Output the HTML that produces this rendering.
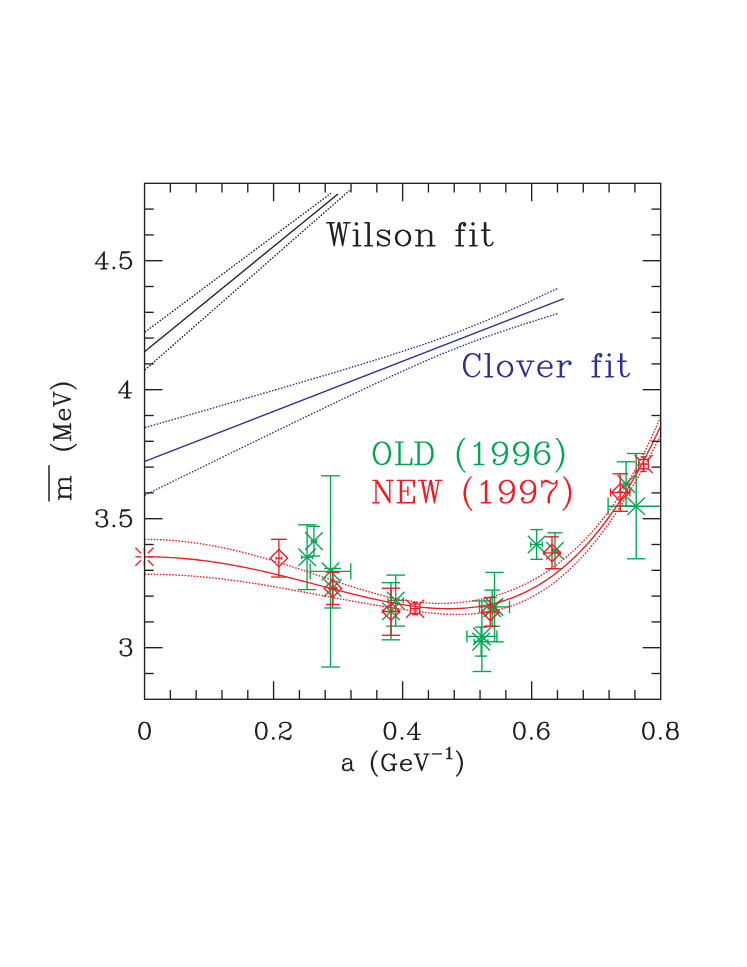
<!DOCTYPE html>
<html><head><meta charset="utf-8"><title>plot</title>
<style>html,body{margin:0;padding:0;background:#fff;font-family:"Liberation Sans",sans-serif}svg{display:block}</style>
</head><body><svg width="747" height="967" viewBox="0 0 747 967">
<rect width="747" height="967" fill="#fff"/>
<g id="green">
<line x1="307.10" y1="524.80" x2="307.10" y2="589.60" stroke="#00a651" stroke-width="1.35" stroke-linecap="butt"/>
<line x1="298.00" y1="524.80" x2="316.20" y2="524.80" stroke="#00a651" stroke-width="1.35" stroke-linecap="butt"/>
<line x1="298.00" y1="589.60" x2="316.20" y2="589.60" stroke="#00a651" stroke-width="1.35" stroke-linecap="butt"/>
<line x1="301.70" y1="557.20" x2="312.50" y2="557.20" stroke="#00a651" stroke-width="1.35" stroke-linecap="butt"/>
<line x1="301.70" y1="555.20" x2="301.70" y2="559.20" stroke="#00a651" stroke-width="1.35" stroke-linecap="butt"/>
<line x1="312.50" y1="555.20" x2="312.50" y2="559.20" stroke="#00a651" stroke-width="1.35" stroke-linecap="butt"/>
<line x1="298.30" y1="548.40" x2="315.90" y2="566.00" stroke="#00a651" stroke-width="1.35" stroke-linecap="butt"/>
<line x1="298.30" y1="566.00" x2="315.90" y2="548.40" stroke="#00a651" stroke-width="1.35" stroke-linecap="butt"/>
<line x1="313.90" y1="526.30" x2="313.90" y2="556.00" stroke="#00a651" stroke-width="1.35" stroke-linecap="butt"/>
<line x1="307.60" y1="526.30" x2="320.20" y2="526.30" stroke="#00a651" stroke-width="1.35" stroke-linecap="butt"/>
<line x1="307.60" y1="556.00" x2="320.20" y2="556.00" stroke="#00a651" stroke-width="1.35" stroke-linecap="butt"/>
<line x1="311.40" y1="541.10" x2="316.40" y2="541.10" stroke="#00a651" stroke-width="1.35" stroke-linecap="butt"/>
<line x1="311.40" y1="539.60" x2="311.40" y2="542.60" stroke="#00a651" stroke-width="1.35" stroke-linecap="butt"/>
<line x1="316.40" y1="539.60" x2="316.40" y2="542.60" stroke="#00a651" stroke-width="1.35" stroke-linecap="butt"/>
<line x1="305.10" y1="532.30" x2="322.70" y2="549.90" stroke="#00a651" stroke-width="1.35" stroke-linecap="butt"/>
<line x1="305.10" y1="549.90" x2="322.70" y2="532.30" stroke="#00a651" stroke-width="1.35" stroke-linecap="butt"/>
<line x1="330.50" y1="475.80" x2="330.50" y2="667.00" stroke="#00a651" stroke-width="1.35" stroke-linecap="butt"/>
<line x1="321.20" y1="475.80" x2="339.80" y2="475.80" stroke="#00a651" stroke-width="1.35" stroke-linecap="butt"/>
<line x1="321.20" y1="667.00" x2="339.80" y2="667.00" stroke="#00a651" stroke-width="1.35" stroke-linecap="butt"/>
<line x1="310.20" y1="571.40" x2="350.80" y2="571.40" stroke="#00a651" stroke-width="1.35" stroke-linecap="butt"/>
<line x1="310.20" y1="563.20" x2="310.20" y2="579.60" stroke="#00a651" stroke-width="1.35" stroke-linecap="butt"/>
<line x1="350.80" y1="563.20" x2="350.80" y2="579.60" stroke="#00a651" stroke-width="1.35" stroke-linecap="butt"/>
<line x1="321.70" y1="562.60" x2="339.30" y2="580.20" stroke="#00a651" stroke-width="1.35" stroke-linecap="butt"/>
<line x1="321.70" y1="580.20" x2="339.30" y2="562.60" stroke="#00a651" stroke-width="1.35" stroke-linecap="butt"/>
<line x1="332.60" y1="568.40" x2="332.60" y2="608.00" stroke="#00a651" stroke-width="1.35" stroke-linecap="butt"/>
<line x1="324.20" y1="568.40" x2="341.00" y2="568.40" stroke="#00a651" stroke-width="1.35" stroke-linecap="butt"/>
<line x1="324.20" y1="608.00" x2="341.00" y2="608.00" stroke="#00a651" stroke-width="1.35" stroke-linecap="butt"/>
<line x1="329.60" y1="588.00" x2="335.60" y2="588.00" stroke="#00a651" stroke-width="1.35" stroke-linecap="butt"/>
<line x1="329.60" y1="586.50" x2="329.60" y2="589.50" stroke="#00a651" stroke-width="1.35" stroke-linecap="butt"/>
<line x1="335.60" y1="586.50" x2="335.60" y2="589.50" stroke="#00a651" stroke-width="1.35" stroke-linecap="butt"/>
<line x1="323.80" y1="579.20" x2="341.40" y2="596.80" stroke="#00a651" stroke-width="1.35" stroke-linecap="butt"/>
<line x1="323.80" y1="596.80" x2="341.40" y2="579.20" stroke="#00a651" stroke-width="1.35" stroke-linecap="butt"/>
<line x1="395.70" y1="575.10" x2="395.70" y2="626.10" stroke="#00a651" stroke-width="1.35" stroke-linecap="butt"/>
<line x1="386.40" y1="575.10" x2="405.00" y2="575.10" stroke="#00a651" stroke-width="1.35" stroke-linecap="butt"/>
<line x1="386.40" y1="626.10" x2="405.00" y2="626.10" stroke="#00a651" stroke-width="1.35" stroke-linecap="butt"/>
<line x1="388.10" y1="600.50" x2="403.30" y2="600.50" stroke="#00a651" stroke-width="1.35" stroke-linecap="butt"/>
<line x1="388.10" y1="597.50" x2="388.10" y2="603.50" stroke="#00a651" stroke-width="1.35" stroke-linecap="butt"/>
<line x1="403.30" y1="597.50" x2="403.30" y2="603.50" stroke="#00a651" stroke-width="1.35" stroke-linecap="butt"/>
<line x1="386.90" y1="591.70" x2="404.50" y2="609.30" stroke="#00a651" stroke-width="1.35" stroke-linecap="butt"/>
<line x1="386.90" y1="609.30" x2="404.50" y2="591.70" stroke="#00a651" stroke-width="1.35" stroke-linecap="butt"/>
<line x1="391.00" y1="582.70" x2="391.00" y2="639.80" stroke="#00a651" stroke-width="1.35" stroke-linecap="butt"/>
<line x1="381.80" y1="582.70" x2="400.20" y2="582.70" stroke="#00a651" stroke-width="1.35" stroke-linecap="butt"/>
<line x1="381.80" y1="639.80" x2="400.20" y2="639.80" stroke="#00a651" stroke-width="1.35" stroke-linecap="butt"/>
<line x1="383.00" y1="611.30" x2="399.00" y2="611.30" stroke="#00a651" stroke-width="1.35" stroke-linecap="butt"/>
<line x1="383.00" y1="609.30" x2="383.00" y2="613.30" stroke="#00a651" stroke-width="1.35" stroke-linecap="butt"/>
<line x1="399.00" y1="609.30" x2="399.00" y2="613.30" stroke="#00a651" stroke-width="1.35" stroke-linecap="butt"/>
<line x1="382.20" y1="602.50" x2="399.80" y2="620.10" stroke="#00a651" stroke-width="1.35" stroke-linecap="butt"/>
<line x1="382.20" y1="620.10" x2="399.80" y2="602.50" stroke="#00a651" stroke-width="1.35" stroke-linecap="butt"/>
<line x1="494.50" y1="572.40" x2="494.50" y2="641.80" stroke="#00a651" stroke-width="1.35" stroke-linecap="butt"/>
<line x1="485.30" y1="572.40" x2="503.70" y2="572.40" stroke="#00a651" stroke-width="1.35" stroke-linecap="butt"/>
<line x1="485.30" y1="641.80" x2="503.70" y2="641.80" stroke="#00a651" stroke-width="1.35" stroke-linecap="butt"/>
<line x1="479.50" y1="606.90" x2="509.50" y2="606.90" stroke="#00a651" stroke-width="1.35" stroke-linecap="butt"/>
<line x1="479.50" y1="600.70" x2="479.50" y2="613.10" stroke="#00a651" stroke-width="1.35" stroke-linecap="butt"/>
<line x1="509.50" y1="600.70" x2="509.50" y2="613.10" stroke="#00a651" stroke-width="1.35" stroke-linecap="butt"/>
<line x1="485.70" y1="598.10" x2="503.30" y2="615.70" stroke="#00a651" stroke-width="1.35" stroke-linecap="butt"/>
<line x1="485.70" y1="615.70" x2="503.30" y2="598.10" stroke="#00a651" stroke-width="1.35" stroke-linecap="butt"/>
<line x1="492.20" y1="590.10" x2="492.20" y2="626.30" stroke="#00a651" stroke-width="1.35" stroke-linecap="butt"/>
<line x1="484.40" y1="590.10" x2="500.00" y2="590.10" stroke="#00a651" stroke-width="1.35" stroke-linecap="butt"/>
<line x1="484.40" y1="626.30" x2="500.00" y2="626.30" stroke="#00a651" stroke-width="1.35" stroke-linecap="butt"/>
<line x1="488.20" y1="608.20" x2="496.20" y2="608.20" stroke="#00a651" stroke-width="1.35" stroke-linecap="butt"/>
<line x1="488.20" y1="606.20" x2="488.20" y2="610.20" stroke="#00a651" stroke-width="1.35" stroke-linecap="butt"/>
<line x1="496.20" y1="606.20" x2="496.20" y2="610.20" stroke="#00a651" stroke-width="1.35" stroke-linecap="butt"/>
<line x1="483.40" y1="599.40" x2="501.00" y2="617.00" stroke="#00a651" stroke-width="1.35" stroke-linecap="butt"/>
<line x1="483.40" y1="617.00" x2="501.00" y2="599.40" stroke="#00a651" stroke-width="1.35" stroke-linecap="butt"/>
<line x1="481.90" y1="600.90" x2="481.90" y2="671.50" stroke="#00a651" stroke-width="1.35" stroke-linecap="butt"/>
<line x1="472.50" y1="600.90" x2="491.30" y2="600.90" stroke="#00a651" stroke-width="1.35" stroke-linecap="butt"/>
<line x1="472.50" y1="671.50" x2="491.30" y2="671.50" stroke="#00a651" stroke-width="1.35" stroke-linecap="butt"/>
<line x1="466.90" y1="636.40" x2="496.90" y2="636.40" stroke="#00a651" stroke-width="1.35" stroke-linecap="butt"/>
<line x1="466.90" y1="630.40" x2="466.90" y2="642.40" stroke="#00a651" stroke-width="1.35" stroke-linecap="butt"/>
<line x1="496.90" y1="630.40" x2="496.90" y2="642.40" stroke="#00a651" stroke-width="1.35" stroke-linecap="butt"/>
<line x1="473.10" y1="627.60" x2="490.70" y2="645.20" stroke="#00a651" stroke-width="1.35" stroke-linecap="butt"/>
<line x1="473.10" y1="645.20" x2="490.70" y2="627.60" stroke="#00a651" stroke-width="1.35" stroke-linecap="butt"/>
<line x1="481.10" y1="627.10" x2="481.10" y2="656.10" stroke="#00a651" stroke-width="1.35" stroke-linecap="butt"/>
<line x1="475.10" y1="627.10" x2="487.10" y2="627.10" stroke="#00a651" stroke-width="1.35" stroke-linecap="butt"/>
<line x1="475.10" y1="656.10" x2="487.10" y2="656.10" stroke="#00a651" stroke-width="1.35" stroke-linecap="butt"/>
<line x1="474.30" y1="641.60" x2="487.90" y2="641.60" stroke="#00a651" stroke-width="1.35" stroke-linecap="butt"/>
<line x1="474.30" y1="639.10" x2="474.30" y2="644.10" stroke="#00a651" stroke-width="1.35" stroke-linecap="butt"/>
<line x1="487.90" y1="639.10" x2="487.90" y2="644.10" stroke="#00a651" stroke-width="1.35" stroke-linecap="butt"/>
<line x1="472.30" y1="632.80" x2="489.90" y2="650.40" stroke="#00a651" stroke-width="1.35" stroke-linecap="butt"/>
<line x1="472.30" y1="650.40" x2="489.90" y2="632.80" stroke="#00a651" stroke-width="1.35" stroke-linecap="butt"/>
<line x1="536.60" y1="529.60" x2="536.60" y2="559.30" stroke="#00a651" stroke-width="1.35" stroke-linecap="butt"/>
<line x1="530.40" y1="529.60" x2="542.80" y2="529.60" stroke="#00a651" stroke-width="1.35" stroke-linecap="butt"/>
<line x1="530.40" y1="559.30" x2="542.80" y2="559.30" stroke="#00a651" stroke-width="1.35" stroke-linecap="butt"/>
<line x1="530.80" y1="544.50" x2="542.40" y2="544.50" stroke="#00a651" stroke-width="1.35" stroke-linecap="butt"/>
<line x1="530.80" y1="541.50" x2="530.80" y2="547.50" stroke="#00a651" stroke-width="1.35" stroke-linecap="butt"/>
<line x1="542.40" y1="541.50" x2="542.40" y2="547.50" stroke="#00a651" stroke-width="1.35" stroke-linecap="butt"/>
<line x1="527.80" y1="535.70" x2="545.40" y2="553.30" stroke="#00a651" stroke-width="1.35" stroke-linecap="butt"/>
<line x1="527.80" y1="553.30" x2="545.40" y2="535.70" stroke="#00a651" stroke-width="1.35" stroke-linecap="butt"/>
<line x1="555.00" y1="532.80" x2="555.00" y2="568.70" stroke="#00a651" stroke-width="1.35" stroke-linecap="butt"/>
<line x1="547.40" y1="532.80" x2="562.60" y2="532.80" stroke="#00a651" stroke-width="1.35" stroke-linecap="butt"/>
<line x1="547.40" y1="568.70" x2="562.60" y2="568.70" stroke="#00a651" stroke-width="1.35" stroke-linecap="butt"/>
<line x1="552.00" y1="550.70" x2="558.00" y2="550.70" stroke="#00a651" stroke-width="1.35" stroke-linecap="butt"/>
<line x1="552.00" y1="549.20" x2="552.00" y2="552.20" stroke="#00a651" stroke-width="1.35" stroke-linecap="butt"/>
<line x1="558.00" y1="549.20" x2="558.00" y2="552.20" stroke="#00a651" stroke-width="1.35" stroke-linecap="butt"/>
<line x1="546.20" y1="541.90" x2="563.80" y2="559.50" stroke="#00a651" stroke-width="1.35" stroke-linecap="butt"/>
<line x1="546.20" y1="559.50" x2="563.80" y2="541.90" stroke="#00a651" stroke-width="1.35" stroke-linecap="butt"/>
<line x1="626.10" y1="461.80" x2="626.10" y2="506.00" stroke="#00a651" stroke-width="1.35" stroke-linecap="butt"/>
<line x1="616.80" y1="461.80" x2="635.40" y2="461.80" stroke="#00a651" stroke-width="1.35" stroke-linecap="butt"/>
<line x1="616.80" y1="506.00" x2="635.40" y2="506.00" stroke="#00a651" stroke-width="1.35" stroke-linecap="butt"/>
<line x1="623.10" y1="483.90" x2="629.10" y2="483.90" stroke="#00a651" stroke-width="1.35" stroke-linecap="butt"/>
<line x1="623.10" y1="482.40" x2="623.10" y2="485.40" stroke="#00a651" stroke-width="1.35" stroke-linecap="butt"/>
<line x1="629.10" y1="482.40" x2="629.10" y2="485.40" stroke="#00a651" stroke-width="1.35" stroke-linecap="butt"/>
<line x1="617.30" y1="475.10" x2="634.90" y2="492.70" stroke="#00a651" stroke-width="1.35" stroke-linecap="butt"/>
<line x1="617.30" y1="492.70" x2="634.90" y2="475.10" stroke="#00a651" stroke-width="1.35" stroke-linecap="butt"/>
<line x1="636.20" y1="453.50" x2="636.20" y2="558.80" stroke="#00a651" stroke-width="1.35" stroke-linecap="butt"/>
<line x1="627.00" y1="453.50" x2="645.40" y2="453.50" stroke="#00a651" stroke-width="1.35" stroke-linecap="butt"/>
<line x1="627.00" y1="558.80" x2="645.40" y2="558.80" stroke="#00a651" stroke-width="1.35" stroke-linecap="butt"/>
<line x1="608.10" y1="506.20" x2="660.90" y2="506.20" stroke="#00a651" stroke-width="1.35" stroke-linecap="butt"/>
<line x1="608.10" y1="497.40" x2="608.10" y2="515.00" stroke="#00a651" stroke-width="1.35" stroke-linecap="butt"/>
<line x1="627.40" y1="497.40" x2="645.00" y2="515.00" stroke="#00a651" stroke-width="1.35" stroke-linecap="butt"/>
<line x1="627.40" y1="515.00" x2="645.00" y2="497.40" stroke="#00a651" stroke-width="1.35" stroke-linecap="butt"/>
</g>
<g id="fits">
<line x1="144.80" y1="351.40" x2="338.00" y2="194.00" stroke="#231f20" stroke-width="1.35" stroke-linecap="butt"/>
<line x1="144.80" y1="332.10" x2="331.10" y2="193.20" stroke="#231f20" stroke-width="1.35" stroke-linecap="butt" stroke-dasharray="1.58 1.5"/>
<line x1="144.80" y1="370.00" x2="349.60" y2="190.40" stroke="#231f20" stroke-width="1.35" stroke-linecap="butt" stroke-dasharray="1.58 1.5"/>
<line x1="144.80" y1="461.40" x2="563.90" y2="298.60" stroke="#2e3192" stroke-width="1.35" stroke-linecap="butt"/>
<polyline points="144.80,427.65 150.04,426.14 155.27,424.64 160.51,423.13 165.74,421.62 170.98,420.12 176.21,418.61 181.45,417.10 186.68,415.59 191.92,414.08 197.15,412.56 202.39,411.05 207.63,409.54 212.86,408.03 218.10,406.51 223.33,404.99 228.57,403.48 233.80,401.96 239.04,400.44 244.27,398.92 249.51,397.40 254.74,395.88 259.98,394.35 265.22,392.82 270.45,391.30 275.69,389.77 280.92,388.24 286.16,386.70 291.39,385.17 296.63,383.63 301.86,382.09 307.10,380.54 312.33,378.99 317.57,377.44 322.81,375.89 328.04,374.33 333.28,372.77 338.51,371.20 343.75,369.63 348.98,368.05 354.22,366.46 359.45,364.87 364.69,363.27 369.92,361.66 375.16,360.04 380.39,358.41 385.63,356.77 390.87,355.11 396.10,353.45 401.34,351.76 406.57,350.06 411.81,348.33 417.04,346.59 422.28,344.82 427.51,343.03 432.75,341.20 437.98,339.35 443.22,337.46 448.46,335.54 453.69,333.58 458.93,331.59 464.16,329.56 469.40,327.49 474.63,325.38 479.87,323.24 485.10,321.06 490.34,318.85 495.57,316.61 500.81,314.34 506.05,312.04 511.28,309.72 516.52,307.38 521.75,305.01 526.99,302.63 532.22,300.23 537.46,297.82 542.69,295.40 547.93,292.96 553.16,290.51 558.40,288.05" fill="none" stroke="#2e3192" stroke-width="1.35" stroke-linejoin="round" stroke-dasharray="1.58 1.5"/>
<polyline points="144.80,495.15 150.04,492.59 155.27,490.03 160.51,487.47 165.74,484.91 170.98,482.35 176.21,479.79 181.45,477.23 186.68,474.67 191.92,472.12 197.15,469.56 202.39,467.01 207.63,464.45 212.86,461.90 218.10,459.35 223.33,456.79 228.57,454.24 233.80,451.69 239.04,449.15 244.27,446.60 249.51,444.05 254.74,441.51 259.98,438.97 265.22,436.42 270.45,433.88 275.69,431.35 280.92,428.81 286.16,426.28 291.39,423.75 296.63,421.22 301.86,418.69 307.10,416.17 312.33,413.65 317.57,411.13 322.81,408.62 328.04,406.11 333.28,403.61 338.51,401.11 343.75,398.61 348.98,396.12 354.22,393.64 359.45,391.17 364.69,388.70 369.92,386.24 375.16,383.79 380.39,381.36 385.63,378.93 390.87,376.52 396.10,374.12 401.34,371.74 406.57,369.37 411.81,367.03 417.04,364.70 422.28,362.40 427.51,360.13 432.75,357.89 437.98,355.67 443.22,353.49 448.46,351.35 453.69,349.24 458.93,347.16 464.16,345.13 469.40,343.13 474.63,341.17 479.87,339.25 485.10,337.36 490.34,335.50 495.57,333.68 500.81,331.88 506.05,330.11 511.28,328.36 516.52,326.64 521.75,324.93 526.99,323.25 532.22,321.58 537.46,319.92 542.69,318.28 547.93,316.65 553.16,315.03 558.40,313.42" fill="none" stroke="#2e3192" stroke-width="1.35" stroke-linejoin="round" stroke-dasharray="1.58 1.5"/>
<polyline points="144.55,556.79 146.91,556.80 149.26,556.82 151.62,556.85 153.98,556.89 156.33,556.95 158.69,557.02 161.05,557.10 163.40,557.19 165.76,557.30 168.12,557.42 170.48,557.55 172.83,557.69 175.19,557.84 177.55,558.01 179.90,558.19 182.26,558.38 184.62,558.58 186.97,558.79 189.33,559.02 191.69,559.26 194.04,559.50 196.40,559.77 198.76,560.04 201.11,560.32 203.47,560.61 205.83,560.92 208.18,561.24 210.54,561.56 212.90,561.90 215.26,562.25 217.61,562.61 219.97,562.98 222.33,563.36 224.68,563.75 227.04,564.14 229.40,564.55 231.75,564.97 234.11,565.40 236.47,565.84 238.82,566.28 241.18,566.74 243.54,567.20 245.89,567.67 248.25,568.15 250.61,568.64 252.97,569.14 255.32,569.64 257.68,570.15 260.04,570.67 262.39,571.20 264.75,571.73 267.11,572.27 269.46,572.82 271.82,573.37 274.18,573.93 276.53,574.49 278.89,575.06 281.25,575.63 283.60,576.21 285.96,576.80 288.32,577.39 290.67,577.98 293.03,578.57 295.39,579.17 297.75,579.78 300.10,580.38 302.46,580.99 304.82,581.60 307.17,582.22 309.53,582.83 311.89,583.45 314.24,584.07 316.60,584.68 318.96,585.30 321.31,585.92 323.67,586.54 326.03,587.16 328.38,587.78 330.74,588.39 333.10,589.01 335.45,589.62 337.81,590.23 340.17,590.84 342.53,591.45 344.88,592.05 347.24,592.65 349.60,593.24 351.95,593.83 354.31,594.41 356.67,594.99 359.02,595.57 361.38,596.14 363.74,596.70 366.09,597.25 368.45,597.80 370.81,598.34 373.16,598.87 375.52,599.39 377.88,599.90 380.23,600.41 382.59,600.90 384.95,601.38 387.31,601.86 389.66,602.32 392.02,602.77 394.38,603.20 396.73,603.63 399.09,604.04 401.45,604.44 403.80,604.82 406.16,605.19 408.52,605.54 410.87,605.88 413.23,606.20 415.59,606.51 417.94,606.80 420.30,607.07 422.66,607.32 425.02,607.55 427.37,607.76 429.73,607.96 432.09,608.13 434.44,608.29 436.80,608.42 439.16,608.53 441.51,608.61 443.87,608.68 446.23,608.72 448.58,608.73 450.94,608.72 453.30,608.69 455.65,608.63 458.01,608.54 460.37,608.43 462.72,608.29 465.08,608.12 467.44,607.92 469.80,607.69 472.15,607.43 474.51,607.14 476.87,606.82 479.22,606.46 481.58,606.08 483.94,605.66 486.29,605.20 488.65,604.72 491.01,604.19 493.36,603.63 495.72,603.04 498.08,602.40 500.43,601.73 502.79,601.02 505.15,600.27 507.50,599.48 509.86,598.65 512.22,597.78 514.58,596.87 516.93,595.91 519.29,594.91 521.65,593.87 524.00,592.78 526.36,591.64 528.72,590.46 531.07,589.24 533.43,587.96 535.79,586.64 538.14,585.26 540.50,583.84 542.86,582.36 545.21,580.84 547.57,579.26 549.93,577.63 552.28,575.94 554.64,574.20 557.00,572.41 559.36,570.56 561.71,568.65 564.07,566.68 566.43,564.66 568.78,562.57 571.14,560.43 573.50,558.23 575.85,555.96 578.21,553.63 580.57,551.24 582.92,548.78 585.28,546.26 587.64,543.67 589.99,541.02 592.35,538.29 594.71,535.50 597.07,532.64 599.42,529.71 601.78,526.71 604.14,523.64 606.49,520.49 608.85,517.27 611.21,513.98 613.56,510.61 615.92,507.16 618.28,503.64 620.63,500.04 622.99,496.36 625.35,492.60 627.70,488.76 630.06,484.84 632.42,480.83 634.77,476.75 637.13,472.57 639.49,468.31 641.85,463.97 644.20,459.54 646.56,455.02 648.92,450.41 651.27,445.71 653.63,440.92 655.99,436.03 658.34,431.06 660.70,425.99" fill="none" stroke="#ed1c24" stroke-width="1.35" stroke-linejoin="round"/>
<polyline points="144.55,539.39 146.91,539.39 149.26,539.42 151.62,539.46 153.98,539.51 156.33,539.58 158.69,539.67 161.05,539.77 163.40,539.89 165.76,540.02 168.12,540.17 170.48,540.33 172.83,540.51 175.19,540.71 177.55,540.92 179.90,541.14 182.26,541.38 184.62,541.64 186.97,541.91 189.33,542.19 191.69,542.49 194.04,542.81 196.40,543.14 198.76,543.48 201.11,543.84 203.47,544.21 205.83,544.60 208.18,545.00 210.54,545.41 212.90,545.84 215.26,546.28 217.61,546.73 219.97,547.20 222.33,547.68 224.68,548.18 227.04,548.68 229.40,549.20 231.75,549.73 234.11,550.27 236.47,550.83 238.82,551.39 241.18,551.97 243.54,552.56 245.89,553.16 248.25,553.77 250.61,554.39 252.97,555.02 255.32,555.66 257.68,556.31 260.04,556.97 262.39,557.64 264.75,558.32 267.11,559.01 269.46,559.70 271.82,560.41 274.18,561.12 276.53,561.84 278.89,562.57 281.25,563.30 283.60,564.04 285.96,564.78 288.32,565.54 290.67,566.29 293.03,567.06 295.39,567.82 297.75,568.60 300.10,569.37 302.46,570.15 304.82,570.93 307.17,571.72 309.53,572.51 311.89,573.30 314.24,574.09 316.60,574.89 318.96,575.68 321.31,576.48 323.67,577.27 326.03,578.06 328.38,578.86 330.74,579.65 333.10,580.44 335.45,581.23 337.81,582.01 340.17,582.79 342.53,583.57 344.88,584.34 347.24,585.11 349.60,585.87 351.95,586.62 354.31,587.37 356.67,588.11 359.02,588.84 361.38,589.56 363.74,590.27 366.09,590.97 368.45,591.66 370.81,592.34 373.16,593.00 375.52,593.66 377.88,594.29 380.23,594.91 382.59,595.52 384.95,596.11 387.31,596.67 389.66,597.23 392.02,597.76 394.38,598.27 396.73,598.76 399.09,599.23 401.45,599.67 403.80,600.09 406.16,600.49 408.52,600.87 410.87,601.21 413.23,601.54 415.59,601.84 417.94,602.11 420.30,602.36 422.66,602.58 425.02,602.77 427.37,602.94 429.73,603.08 432.09,603.19 434.44,603.28 436.80,603.34 439.16,603.37 441.51,603.38 443.87,603.36 446.23,603.31 448.58,603.23 450.94,603.13 453.30,603.00 455.65,602.84 458.01,602.66 460.37,602.45 462.72,602.20 465.08,601.93 467.44,601.63 469.80,601.31 472.15,600.95 474.51,600.56 476.87,600.14 479.22,599.69 481.58,599.21 483.94,598.70 486.29,598.16 488.65,597.58 491.01,596.97 493.36,596.33 495.72,595.65 498.08,594.94 500.43,594.20 502.79,593.42 505.15,592.60 507.50,591.75 509.86,590.86 512.22,589.94 514.58,588.97 516.93,587.97 519.29,586.93 521.65,585.85 524.00,584.73 526.36,583.56 528.72,582.36 531.07,581.11 533.43,579.82 535.79,578.49 538.14,577.11 540.50,575.69 542.86,574.22 545.21,572.71 547.57,571.15 549.93,569.54 552.28,567.88 554.64,566.17 557.00,564.42 559.36,562.61 561.71,560.75 564.07,558.84 566.43,556.87 568.78,554.86 571.14,552.78 573.50,550.65 575.85,548.46 578.21,546.22 580.57,543.91 582.92,541.54 585.28,539.12 587.64,536.62 589.99,534.07 592.35,531.45 594.71,528.76 597.07,526.00 599.42,523.17 601.78,520.26 604.14,517.28 606.49,514.23 608.85,511.09 611.21,507.87 613.56,504.57 615.92,501.17 618.28,497.69 620.63,494.11 622.99,490.44 625.35,486.67 627.70,482.79 630.06,478.81 632.42,474.72 634.77,470.51 637.13,466.20 639.49,461.77 641.85,457.23 644.20,452.57 646.56,447.80 648.92,442.90 651.27,437.89 653.63,432.76 655.99,427.51 658.34,422.15 660.70,416.66" fill="none" stroke="#ed1c24" stroke-width="1.35" stroke-linejoin="round" stroke-dasharray="1.58 1.5"/>
<polyline points="144.55,574.20 146.91,574.21 149.26,574.22 151.62,574.24 153.98,574.28 156.33,574.32 158.69,574.37 161.05,574.43 163.40,574.50 165.76,574.57 168.12,574.66 170.48,574.76 172.83,574.86 175.19,574.98 177.55,575.10 179.90,575.23 182.26,575.37 184.62,575.52 186.97,575.68 189.33,575.84 191.69,576.02 194.04,576.20 196.40,576.39 198.76,576.59 201.11,576.80 203.47,577.02 205.83,577.24 208.18,577.47 210.54,577.71 212.90,577.96 215.26,578.22 217.61,578.48 219.97,578.75 222.33,579.03 224.68,579.31 227.04,579.61 229.40,579.91 231.75,580.21 234.11,580.53 236.47,580.85 238.82,581.17 241.18,581.50 243.54,581.84 245.89,582.19 248.25,582.54 250.61,582.89 252.97,583.26 255.32,583.62 257.68,583.99 260.04,584.37 262.39,584.75 264.75,585.14 267.11,585.53 269.46,585.93 271.82,586.33 274.18,586.73 276.53,587.14 278.89,587.55 281.25,587.97 283.60,588.39 285.96,588.81 288.32,589.24 290.67,589.66 293.03,590.09 295.39,590.52 297.75,590.96 300.10,591.39 302.46,591.83 304.82,592.27 307.17,592.71 309.53,593.15 311.89,593.60 314.24,594.04 316.60,594.48 318.96,594.92 321.31,595.37 323.67,595.81 326.03,596.25 328.38,596.70 330.74,597.14 333.10,597.58 335.45,598.02 337.81,598.45 340.17,598.89 342.53,599.32 344.88,599.76 347.24,600.19 349.60,600.61 351.95,601.04 354.31,601.46 356.67,601.88 359.02,602.30 361.38,602.71 363.74,603.12 366.09,603.53 368.45,603.93 370.81,604.33 373.16,604.73 375.52,605.12 377.88,605.51 380.23,605.90 382.59,606.28 384.95,606.66 387.31,607.04 389.66,607.41 392.02,607.78 394.38,608.14 396.73,608.50 399.09,608.85 401.45,609.20 403.80,609.55 406.16,609.89 408.52,610.22 410.87,610.55 413.23,610.87 415.59,611.18 417.94,611.48 420.30,611.78 422.66,612.06 425.02,612.33 427.37,612.59 429.73,612.84 432.09,613.08 434.44,613.29 436.80,613.50 439.16,613.68 441.51,613.85 443.87,614.00 446.23,614.13 448.58,614.23 450.94,614.32 453.30,614.38 455.65,614.41 458.01,614.43 460.37,614.41 462.72,614.37 465.08,614.30 467.44,614.20 469.80,614.07 472.15,613.91 474.51,613.72 476.87,613.49 479.22,613.24 481.58,612.94 483.94,612.62 486.29,612.25 488.65,611.85 491.01,611.41 493.36,610.94 495.72,610.42 498.08,609.86 500.43,609.26 502.79,608.62 505.15,607.94 507.50,607.21 509.86,606.44 512.22,605.63 514.58,604.76 516.93,603.85 519.29,602.90 521.65,601.89 524.00,600.83 526.36,599.73 528.72,598.57 531.07,597.36 533.43,596.10 535.79,594.78 538.14,593.41 540.50,591.99 542.86,590.51 545.21,588.97 547.57,587.37 549.93,585.72 552.28,584.01 554.64,582.23 557.00,580.40 559.36,578.51 561.71,576.55 564.07,574.53 566.43,572.44 568.78,570.29 571.14,568.08 573.50,565.80 575.85,563.46 578.21,561.04 580.57,558.56 582.92,556.02 585.28,553.40 587.64,550.72 589.99,547.96 592.35,545.14 594.71,542.25 597.07,539.29 599.42,536.26 601.78,533.16 604.14,529.99 606.49,526.76 608.85,523.46 611.21,520.09 613.56,516.65 615.92,513.15 618.28,509.59 620.63,505.97 622.99,502.28 625.35,498.54 627.70,494.73 630.06,490.87 632.42,486.95 634.77,482.98 637.13,478.94 639.49,474.85 641.85,470.71 644.20,466.50 646.56,462.24 648.92,457.91 651.27,453.52 653.63,449.07 655.99,444.56 658.34,439.97 660.70,435.32" fill="none" stroke="#ed1c24" stroke-width="1.35" stroke-linejoin="round" stroke-dasharray="1.58 1.5"/>
</g>
<g id="red">
<line x1="278.90" y1="539.30" x2="278.90" y2="577.00" stroke="#ed1c24" stroke-width="1.35" stroke-linecap="butt"/>
<line x1="271.00" y1="539.30" x2="286.80" y2="539.30" stroke="#ed1c24" stroke-width="1.35" stroke-linecap="butt"/>
<line x1="271.00" y1="577.00" x2="286.80" y2="577.00" stroke="#ed1c24" stroke-width="1.35" stroke-linecap="butt"/>
<line x1="276.10" y1="558.20" x2="281.70" y2="558.20" stroke="#ed1c24" stroke-width="1.35" stroke-linecap="butt"/>
<line x1="276.10" y1="556.70" x2="276.10" y2="559.70" stroke="#ed1c24" stroke-width="1.35" stroke-linecap="butt"/>
<line x1="281.70" y1="556.70" x2="281.70" y2="559.70" stroke="#ed1c24" stroke-width="1.35" stroke-linecap="butt"/>
<path d="M270.20,558.20L278.90,549.50L287.60,558.20L278.90,566.90Z" fill="none" stroke="#ed1c24" stroke-width="1.35" stroke-linejoin="miter"/>
<line x1="332.90" y1="572.30" x2="332.90" y2="604.50" stroke="#ed1c24" stroke-width="1.35" stroke-linecap="butt"/>
<line x1="326.10" y1="572.30" x2="339.70" y2="572.30" stroke="#ed1c24" stroke-width="1.35" stroke-linecap="butt"/>
<line x1="326.10" y1="604.50" x2="339.70" y2="604.50" stroke="#ed1c24" stroke-width="1.35" stroke-linecap="butt"/>
<line x1="329.10" y1="588.40" x2="336.70" y2="588.40" stroke="#ed1c24" stroke-width="1.35" stroke-linecap="butt"/>
<line x1="329.10" y1="586.90" x2="329.10" y2="589.90" stroke="#ed1c24" stroke-width="1.35" stroke-linecap="butt"/>
<line x1="336.70" y1="586.90" x2="336.70" y2="589.90" stroke="#ed1c24" stroke-width="1.35" stroke-linecap="butt"/>
<path d="M324.20,588.40L332.90,579.70L341.60,588.40L332.90,597.10Z" fill="none" stroke="#ed1c24" stroke-width="1.35" stroke-linejoin="miter"/>
<line x1="391.00" y1="588.20" x2="391.00" y2="635.30" stroke="#ed1c24" stroke-width="1.35" stroke-linecap="butt"/>
<line x1="381.80" y1="588.20" x2="400.20" y2="588.20" stroke="#ed1c24" stroke-width="1.35" stroke-linecap="butt"/>
<line x1="381.80" y1="635.30" x2="400.20" y2="635.30" stroke="#ed1c24" stroke-width="1.35" stroke-linecap="butt"/>
<line x1="382.50" y1="611.60" x2="399.50" y2="611.60" stroke="#ed1c24" stroke-width="1.35" stroke-linecap="butt"/>
<line x1="382.50" y1="610.10" x2="382.50" y2="613.10" stroke="#ed1c24" stroke-width="1.35" stroke-linecap="butt"/>
<line x1="399.50" y1="610.10" x2="399.50" y2="613.10" stroke="#ed1c24" stroke-width="1.35" stroke-linecap="butt"/>
<path d="M382.30,611.60L391.00,602.90L399.70,611.60L391.00,620.30Z" fill="none" stroke="#ed1c24" stroke-width="1.35" stroke-linejoin="miter"/>
<line x1="490.30" y1="597.50" x2="490.30" y2="626.30" stroke="#ed1c24" stroke-width="1.35" stroke-linecap="butt"/>
<line x1="483.90" y1="597.50" x2="496.70" y2="597.50" stroke="#ed1c24" stroke-width="1.35" stroke-linecap="butt"/>
<line x1="483.90" y1="626.30" x2="496.70" y2="626.30" stroke="#ed1c24" stroke-width="1.35" stroke-linecap="butt"/>
<line x1="481.70" y1="612.10" x2="498.90" y2="612.10" stroke="#ed1c24" stroke-width="1.35" stroke-linecap="butt"/>
<line x1="481.70" y1="610.60" x2="481.70" y2="613.60" stroke="#ed1c24" stroke-width="1.35" stroke-linecap="butt"/>
<line x1="498.90" y1="610.60" x2="498.90" y2="613.60" stroke="#ed1c24" stroke-width="1.35" stroke-linecap="butt"/>
<path d="M481.60,612.10L490.30,603.40L499.00,612.10L490.30,620.80Z" fill="none" stroke="#ed1c24" stroke-width="1.35" stroke-linejoin="miter"/>
<line x1="552.00" y1="536.80" x2="552.00" y2="568.70" stroke="#ed1c24" stroke-width="1.35" stroke-linecap="butt"/>
<line x1="545.20" y1="536.80" x2="558.80" y2="536.80" stroke="#ed1c24" stroke-width="1.35" stroke-linecap="butt"/>
<line x1="545.20" y1="568.70" x2="558.80" y2="568.70" stroke="#ed1c24" stroke-width="1.35" stroke-linecap="butt"/>
<line x1="544.10" y1="553.00" x2="559.90" y2="553.00" stroke="#ed1c24" stroke-width="1.35" stroke-linecap="butt"/>
<line x1="544.10" y1="551.00" x2="544.10" y2="555.00" stroke="#ed1c24" stroke-width="1.35" stroke-linecap="butt"/>
<line x1="559.90" y1="551.00" x2="559.90" y2="555.00" stroke="#ed1c24" stroke-width="1.35" stroke-linecap="butt"/>
<path d="M543.30,553.00L552.00,544.30L560.70,553.00L552.00,561.70Z" fill="none" stroke="#ed1c24" stroke-width="1.35" stroke-linejoin="miter"/>
<line x1="620.20" y1="473.80" x2="620.20" y2="511.30" stroke="#ed1c24" stroke-width="1.35" stroke-linecap="butt"/>
<line x1="612.40" y1="473.80" x2="628.00" y2="473.80" stroke="#ed1c24" stroke-width="1.35" stroke-linecap="butt"/>
<line x1="612.40" y1="511.30" x2="628.00" y2="511.30" stroke="#ed1c24" stroke-width="1.35" stroke-linecap="butt"/>
<line x1="610.60" y1="492.50" x2="629.80" y2="492.50" stroke="#ed1c24" stroke-width="1.35" stroke-linecap="butt"/>
<line x1="610.60" y1="488.50" x2="610.60" y2="496.50" stroke="#ed1c24" stroke-width="1.35" stroke-linecap="butt"/>
<line x1="629.80" y1="488.50" x2="629.80" y2="496.50" stroke="#ed1c24" stroke-width="1.35" stroke-linecap="butt"/>
<path d="M611.50,492.50L620.20,483.80L628.90,492.50L620.20,501.20Z" fill="none" stroke="#ed1c24" stroke-width="1.35" stroke-linejoin="miter"/>
<line x1="147.90" y1="556.80" x2="153.40" y2="556.80" stroke="#ed1c24" stroke-width="1.35" stroke-linecap="butt"/>
<line x1="140.90" y1="556.80" x2="135.40" y2="556.80" stroke="#ed1c24" stroke-width="1.35" stroke-linecap="butt"/>
<line x1="144.40" y1="560.30" x2="144.40" y2="565.80" stroke="#ed1c24" stroke-width="1.35" stroke-linecap="butt"/>
<line x1="144.40" y1="553.30" x2="144.40" y2="547.80" stroke="#ed1c24" stroke-width="1.35" stroke-linecap="butt"/>
<line x1="147.90" y1="560.30" x2="153.40" y2="565.80" stroke="#ed1c24" stroke-width="1.35" stroke-linecap="butt"/>
<line x1="147.90" y1="553.30" x2="153.40" y2="547.80" stroke="#ed1c24" stroke-width="1.35" stroke-linecap="butt"/>
<line x1="140.90" y1="560.30" x2="135.40" y2="565.80" stroke="#ed1c24" stroke-width="1.35" stroke-linecap="butt"/>
<line x1="140.90" y1="553.30" x2="135.40" y2="547.80" stroke="#ed1c24" stroke-width="1.35" stroke-linecap="butt"/>
<rect x="410.40" y="604.00" width="9.4" height="9.4" fill="none" stroke="#ed1c24" stroke-width="1.35"/>
<line x1="419.80" y1="613.40" x2="424.10" y2="617.70" stroke="#ed1c24" stroke-width="1.35" stroke-linecap="butt"/>
<line x1="419.80" y1="604.00" x2="424.10" y2="599.70" stroke="#ed1c24" stroke-width="1.35" stroke-linecap="butt"/>
<line x1="410.40" y1="613.40" x2="406.10" y2="617.70" stroke="#ed1c24" stroke-width="1.35" stroke-linecap="butt"/>
<line x1="410.40" y1="604.00" x2="406.10" y2="599.70" stroke="#ed1c24" stroke-width="1.35" stroke-linecap="butt"/>
<line x1="415.10" y1="602.70" x2="415.10" y2="614.70" stroke="#ed1c24" stroke-width="1.35" stroke-linecap="butt"/>
<line x1="412.10" y1="602.70" x2="418.10" y2="602.70" stroke="#ed1c24" stroke-width="1.35" stroke-linecap="butt"/>
<line x1="412.10" y1="614.70" x2="418.10" y2="614.70" stroke="#ed1c24" stroke-width="1.35" stroke-linecap="butt"/>
<line x1="410.40" y1="608.70" x2="419.80" y2="608.70" stroke="#ed1c24" stroke-width="1.35" stroke-linecap="butt"/>
<rect x="638.90" y="459.40" width="9.4" height="9.4" fill="none" stroke="#ed1c24" stroke-width="1.35"/>
<line x1="648.30" y1="468.80" x2="652.60" y2="473.10" stroke="#ed1c24" stroke-width="1.35" stroke-linecap="butt"/>
<line x1="648.30" y1="459.40" x2="652.60" y2="455.10" stroke="#ed1c24" stroke-width="1.35" stroke-linecap="butt"/>
<line x1="638.90" y1="468.80" x2="634.60" y2="473.10" stroke="#ed1c24" stroke-width="1.35" stroke-linecap="butt"/>
<line x1="638.90" y1="459.40" x2="634.60" y2="455.10" stroke="#ed1c24" stroke-width="1.35" stroke-linecap="butt"/>
<line x1="643.60" y1="456.80" x2="643.60" y2="471.40" stroke="#ed1c24" stroke-width="1.35" stroke-linecap="butt"/>
<line x1="640.60" y1="456.80" x2="646.60" y2="456.80" stroke="#ed1c24" stroke-width="1.35" stroke-linecap="butt"/>
<line x1="640.60" y1="471.40" x2="646.60" y2="471.40" stroke="#ed1c24" stroke-width="1.35" stroke-linecap="butt"/>
<line x1="638.90" y1="464.10" x2="648.30" y2="464.10" stroke="#ed1c24" stroke-width="1.35" stroke-linecap="butt"/>
</g>
<g id="axes">
<line x1="170.36" y1="699.30" x2="170.36" y2="690.10" stroke="#231f20" stroke-width="1.35" stroke-linecap="butt"/>
<line x1="170.36" y1="183.30" x2="170.36" y2="192.50" stroke="#231f20" stroke-width="1.35" stroke-linecap="butt"/>
<line x1="196.17" y1="699.30" x2="196.17" y2="690.10" stroke="#231f20" stroke-width="1.35" stroke-linecap="butt"/>
<line x1="196.17" y1="183.30" x2="196.17" y2="192.50" stroke="#231f20" stroke-width="1.35" stroke-linecap="butt"/>
<line x1="221.97" y1="699.30" x2="221.97" y2="690.10" stroke="#231f20" stroke-width="1.35" stroke-linecap="butt"/>
<line x1="221.97" y1="183.30" x2="221.97" y2="192.50" stroke="#231f20" stroke-width="1.35" stroke-linecap="butt"/>
<line x1="247.78" y1="699.30" x2="247.78" y2="690.10" stroke="#231f20" stroke-width="1.35" stroke-linecap="butt"/>
<line x1="247.78" y1="183.30" x2="247.78" y2="192.50" stroke="#231f20" stroke-width="1.35" stroke-linecap="butt"/>
<line x1="273.59" y1="699.30" x2="273.59" y2="681.30" stroke="#231f20" stroke-width="1.35" stroke-linecap="butt"/>
<line x1="273.59" y1="183.30" x2="273.59" y2="201.30" stroke="#231f20" stroke-width="1.35" stroke-linecap="butt"/>
<line x1="299.40" y1="699.30" x2="299.40" y2="690.10" stroke="#231f20" stroke-width="1.35" stroke-linecap="butt"/>
<line x1="299.40" y1="183.30" x2="299.40" y2="192.50" stroke="#231f20" stroke-width="1.35" stroke-linecap="butt"/>
<line x1="325.20" y1="699.30" x2="325.20" y2="690.10" stroke="#231f20" stroke-width="1.35" stroke-linecap="butt"/>
<line x1="325.20" y1="183.30" x2="325.20" y2="192.50" stroke="#231f20" stroke-width="1.35" stroke-linecap="butt"/>
<line x1="351.01" y1="699.30" x2="351.01" y2="690.10" stroke="#231f20" stroke-width="1.35" stroke-linecap="butt"/>
<line x1="351.01" y1="183.30" x2="351.01" y2="192.50" stroke="#231f20" stroke-width="1.35" stroke-linecap="butt"/>
<line x1="376.82" y1="699.30" x2="376.82" y2="690.10" stroke="#231f20" stroke-width="1.35" stroke-linecap="butt"/>
<line x1="376.82" y1="183.30" x2="376.82" y2="192.50" stroke="#231f20" stroke-width="1.35" stroke-linecap="butt"/>
<line x1="402.63" y1="699.30" x2="402.63" y2="681.30" stroke="#231f20" stroke-width="1.35" stroke-linecap="butt"/>
<line x1="402.63" y1="183.30" x2="402.63" y2="201.30" stroke="#231f20" stroke-width="1.35" stroke-linecap="butt"/>
<line x1="428.43" y1="699.30" x2="428.43" y2="690.10" stroke="#231f20" stroke-width="1.35" stroke-linecap="butt"/>
<line x1="428.43" y1="183.30" x2="428.43" y2="192.50" stroke="#231f20" stroke-width="1.35" stroke-linecap="butt"/>
<line x1="454.24" y1="699.30" x2="454.24" y2="690.10" stroke="#231f20" stroke-width="1.35" stroke-linecap="butt"/>
<line x1="454.24" y1="183.30" x2="454.24" y2="192.50" stroke="#231f20" stroke-width="1.35" stroke-linecap="butt"/>
<line x1="480.05" y1="699.30" x2="480.05" y2="690.10" stroke="#231f20" stroke-width="1.35" stroke-linecap="butt"/>
<line x1="480.05" y1="183.30" x2="480.05" y2="192.50" stroke="#231f20" stroke-width="1.35" stroke-linecap="butt"/>
<line x1="505.86" y1="699.30" x2="505.86" y2="690.10" stroke="#231f20" stroke-width="1.35" stroke-linecap="butt"/>
<line x1="505.86" y1="183.30" x2="505.86" y2="192.50" stroke="#231f20" stroke-width="1.35" stroke-linecap="butt"/>
<line x1="531.66" y1="699.30" x2="531.66" y2="681.30" stroke="#231f20" stroke-width="1.35" stroke-linecap="butt"/>
<line x1="531.66" y1="183.30" x2="531.66" y2="201.30" stroke="#231f20" stroke-width="1.35" stroke-linecap="butt"/>
<line x1="557.47" y1="699.30" x2="557.47" y2="690.10" stroke="#231f20" stroke-width="1.35" stroke-linecap="butt"/>
<line x1="557.47" y1="183.30" x2="557.47" y2="192.50" stroke="#231f20" stroke-width="1.35" stroke-linecap="butt"/>
<line x1="583.28" y1="699.30" x2="583.28" y2="690.10" stroke="#231f20" stroke-width="1.35" stroke-linecap="butt"/>
<line x1="583.28" y1="183.30" x2="583.28" y2="192.50" stroke="#231f20" stroke-width="1.35" stroke-linecap="butt"/>
<line x1="609.09" y1="699.30" x2="609.09" y2="690.10" stroke="#231f20" stroke-width="1.35" stroke-linecap="butt"/>
<line x1="609.09" y1="183.30" x2="609.09" y2="192.50" stroke="#231f20" stroke-width="1.35" stroke-linecap="butt"/>
<line x1="634.89" y1="699.30" x2="634.89" y2="690.10" stroke="#231f20" stroke-width="1.35" stroke-linecap="butt"/>
<line x1="634.89" y1="183.30" x2="634.89" y2="192.50" stroke="#231f20" stroke-width="1.35" stroke-linecap="butt"/>
<line x1="144.55" y1="673.50" x2="153.75" y2="673.50" stroke="#231f20" stroke-width="1.35" stroke-linecap="butt"/>
<line x1="660.70" y1="673.50" x2="651.50" y2="673.50" stroke="#231f20" stroke-width="1.35" stroke-linecap="butt"/>
<line x1="144.55" y1="647.70" x2="162.55" y2="647.70" stroke="#231f20" stroke-width="1.35" stroke-linecap="butt"/>
<line x1="660.70" y1="647.70" x2="642.70" y2="647.70" stroke="#231f20" stroke-width="1.35" stroke-linecap="butt"/>
<line x1="144.55" y1="621.90" x2="153.75" y2="621.90" stroke="#231f20" stroke-width="1.35" stroke-linecap="butt"/>
<line x1="660.70" y1="621.90" x2="651.50" y2="621.90" stroke="#231f20" stroke-width="1.35" stroke-linecap="butt"/>
<line x1="144.55" y1="596.10" x2="153.75" y2="596.10" stroke="#231f20" stroke-width="1.35" stroke-linecap="butt"/>
<line x1="660.70" y1="596.10" x2="651.50" y2="596.10" stroke="#231f20" stroke-width="1.35" stroke-linecap="butt"/>
<line x1="144.55" y1="570.30" x2="153.75" y2="570.30" stroke="#231f20" stroke-width="1.35" stroke-linecap="butt"/>
<line x1="660.70" y1="570.30" x2="651.50" y2="570.30" stroke="#231f20" stroke-width="1.35" stroke-linecap="butt"/>
<line x1="144.55" y1="544.50" x2="153.75" y2="544.50" stroke="#231f20" stroke-width="1.35" stroke-linecap="butt"/>
<line x1="660.70" y1="544.50" x2="651.50" y2="544.50" stroke="#231f20" stroke-width="1.35" stroke-linecap="butt"/>
<line x1="144.55" y1="518.70" x2="162.55" y2="518.70" stroke="#231f20" stroke-width="1.35" stroke-linecap="butt"/>
<line x1="660.70" y1="518.70" x2="642.70" y2="518.70" stroke="#231f20" stroke-width="1.35" stroke-linecap="butt"/>
<line x1="144.55" y1="492.90" x2="153.75" y2="492.90" stroke="#231f20" stroke-width="1.35" stroke-linecap="butt"/>
<line x1="660.70" y1="492.90" x2="651.50" y2="492.90" stroke="#231f20" stroke-width="1.35" stroke-linecap="butt"/>
<line x1="144.55" y1="467.10" x2="153.75" y2="467.10" stroke="#231f20" stroke-width="1.35" stroke-linecap="butt"/>
<line x1="660.70" y1="467.10" x2="651.50" y2="467.10" stroke="#231f20" stroke-width="1.35" stroke-linecap="butt"/>
<line x1="144.55" y1="441.30" x2="153.75" y2="441.30" stroke="#231f20" stroke-width="1.35" stroke-linecap="butt"/>
<line x1="660.70" y1="441.30" x2="651.50" y2="441.30" stroke="#231f20" stroke-width="1.35" stroke-linecap="butt"/>
<line x1="144.55" y1="415.50" x2="153.75" y2="415.50" stroke="#231f20" stroke-width="1.35" stroke-linecap="butt"/>
<line x1="660.70" y1="415.50" x2="651.50" y2="415.50" stroke="#231f20" stroke-width="1.35" stroke-linecap="butt"/>
<line x1="144.55" y1="389.70" x2="162.55" y2="389.70" stroke="#231f20" stroke-width="1.35" stroke-linecap="butt"/>
<line x1="660.70" y1="389.70" x2="642.70" y2="389.70" stroke="#231f20" stroke-width="1.35" stroke-linecap="butt"/>
<line x1="144.55" y1="363.90" x2="153.75" y2="363.90" stroke="#231f20" stroke-width="1.35" stroke-linecap="butt"/>
<line x1="660.70" y1="363.90" x2="651.50" y2="363.90" stroke="#231f20" stroke-width="1.35" stroke-linecap="butt"/>
<line x1="144.55" y1="338.10" x2="153.75" y2="338.10" stroke="#231f20" stroke-width="1.35" stroke-linecap="butt"/>
<line x1="660.70" y1="338.10" x2="651.50" y2="338.10" stroke="#231f20" stroke-width="1.35" stroke-linecap="butt"/>
<line x1="144.55" y1="312.30" x2="153.75" y2="312.30" stroke="#231f20" stroke-width="1.35" stroke-linecap="butt"/>
<line x1="660.70" y1="312.30" x2="651.50" y2="312.30" stroke="#231f20" stroke-width="1.35" stroke-linecap="butt"/>
<line x1="144.55" y1="286.50" x2="153.75" y2="286.50" stroke="#231f20" stroke-width="1.35" stroke-linecap="butt"/>
<line x1="660.70" y1="286.50" x2="651.50" y2="286.50" stroke="#231f20" stroke-width="1.35" stroke-linecap="butt"/>
<line x1="144.55" y1="260.70" x2="162.55" y2="260.70" stroke="#231f20" stroke-width="1.35" stroke-linecap="butt"/>
<line x1="660.70" y1="260.70" x2="642.70" y2="260.70" stroke="#231f20" stroke-width="1.35" stroke-linecap="butt"/>
<line x1="144.55" y1="234.90" x2="153.75" y2="234.90" stroke="#231f20" stroke-width="1.35" stroke-linecap="butt"/>
<line x1="660.70" y1="234.90" x2="651.50" y2="234.90" stroke="#231f20" stroke-width="1.35" stroke-linecap="butt"/>
<line x1="144.55" y1="209.10" x2="153.75" y2="209.10" stroke="#231f20" stroke-width="1.35" stroke-linecap="butt"/>
<line x1="660.70" y1="209.10" x2="651.50" y2="209.10" stroke="#231f20" stroke-width="1.35" stroke-linecap="butt"/>
<rect x="144.55" y="183.3" width="516.15" height="516.00" fill="none" stroke="#231f20" stroke-width="1.35"/>
</g>
<g id="text">
<path d="M469.5,229.7 469.1,230.0 469.0,230.4 469.1,230.8 469.3,231.0 469.7,231.1 472.1,231.1 472.2,231.2 472.2,244.8 472.1,244.9 469.5,244.9 469.1,245.3 469.0,245.6 469.1,245.9 469.3,246.2 469.7,246.4 477.2,246.4 477.4,246.3 477.7,246.0 477.9,245.6 477.7,245.2 477.5,245.0 477.2,244.9 474.8,244.9 474.7,244.8 474.7,230.4 474.6,230.1 474.4,229.8 474.0,229.6 469.7,229.6ZM415.1,230.0 415.0,230.4 415.1,230.7 415.5,231.1 418.1,231.1 418.2,231.2 418.2,244.8 418.1,244.9 415.5,244.9 415.1,245.2 415.0,245.6 415.1,246.0 415.3,246.2 415.7,246.4 423.1,246.4 423.5,246.2 423.7,246.0 423.9,245.6 423.8,245.3 423.4,244.9 420.8,244.9 420.7,244.8 420.7,234.0 422.5,232.1 425.3,231.1 427.2,231.1 428.8,232.0 429.0,232.2 429.8,233.8 429.8,244.8 429.8,244.9 427.1,244.9 426.7,245.3 426.6,245.6 426.8,246.0 427.0,246.2 427.4,246.4 434.8,246.4 435.2,246.2 435.4,246.0 435.5,245.6 435.5,245.3 435.1,244.9 432.4,244.9 432.3,244.8 432.3,233.7 432.3,233.3 431.2,231.1 430.9,230.9 427.7,229.7 425.3,229.6 421.9,230.7 421.6,230.9 420.8,231.8 420.7,231.7 420.6,230.1 420.2,229.7 420.0,229.6 415.7,229.6 415.3,229.8ZM402.0,229.6 398.6,230.7 398.2,230.9 396.1,233.1 394.9,236.6 394.9,239.1 395.9,242.5 396.1,242.9 398.2,245.1 401.6,246.3 404.1,246.4 407.4,245.3 407.8,245.1 409.9,242.9 411.1,239.4 411.2,236.9 410.1,233.5 409.9,233.1 407.8,230.9 404.4,229.7ZM402.1,231.1 403.9,231.1 405.7,232.0 407.7,234.1 408.6,236.9 408.6,239.1 407.7,241.9 405.7,244.0 403.9,244.9 402.1,244.9 400.4,244.0 398.3,241.9 397.4,239.1 397.4,236.9 398.3,234.1 400.4,232.0ZM380.4,229.7 378.3,230.8 377.1,232.0 376.9,232.6 376.9,234.7 377.1,235.3 378.3,236.5 380.6,237.7 385.7,239.7 387.7,240.7 388.5,241.6 388.5,243.1 387.7,244.0 385.9,244.9 382.0,244.9 380.2,244.0 379.2,242.9 378.3,240.9 378.0,240.7 377.6,240.5 377.2,240.7 377.0,240.9 376.9,241.3 376.9,245.6 376.9,245.9 377.3,246.3 377.6,246.4 378.0,246.2 378.3,246.0 378.9,244.7 379.4,245.2 381.5,246.3 381.8,246.4 386.1,246.4 386.4,246.3 388.5,245.2 389.8,244.0 390.0,243.4 390.0,240.2 389.8,239.6 388.5,238.4 386.3,237.3 381.2,235.2 379.2,234.2 378.3,233.3 378.3,232.9 379.2,232.0 380.9,231.1 384.9,231.1 386.6,232.0 387.7,233.1 388.6,235.1 388.9,235.4 389.2,235.5 389.6,235.4 389.8,235.2 390.0,234.7 390.0,230.4 389.9,230.1 389.5,229.7 389.2,229.6 388.9,229.8 388.6,230.1 388.0,231.3 387.5,230.8 385.3,229.7 385.0,229.6 380.8,229.6ZM353.0,229.7 352.6,230.0 352.5,230.4 352.6,230.8 352.8,231.0 353.2,231.1 355.6,231.1 355.7,231.2 355.7,244.8 355.6,244.9 353.0,244.9 352.6,245.3 352.5,245.6 352.6,245.9 352.8,246.2 353.2,246.4 360.7,246.4 360.9,246.3 361.2,246.0 361.4,245.6 361.2,245.2 361.0,245.0 360.7,244.9 358.3,244.9 358.2,244.8 358.2,230.4 358.1,230.1 357.9,229.8 357.5,229.6 353.2,229.6ZM484.6,222.0 484.2,222.2 484.0,222.4 483.8,222.8 483.8,229.6 483.8,229.6 481.4,229.6 481.0,229.8 480.8,230.0 480.7,230.4 480.8,230.8 481.1,231.1 483.8,231.1 483.8,231.2 483.8,241.3 485.0,244.9 485.3,245.2 487.4,246.3 487.7,246.4 490.2,246.3 492.3,245.2 492.6,244.9 493.7,242.7 493.8,242.4 493.6,241.9 493.4,241.7 493.0,241.6 492.6,241.7 492.4,242.0 491.5,243.9 491.3,244.1 489.7,244.9 488.1,244.9 487.2,243.9 486.4,241.3 486.4,231.2 486.4,231.1 489.9,231.1 490.3,231.0 490.5,230.8 490.6,230.4 490.5,230.0 490.3,229.8 489.9,229.6 486.4,229.6 486.4,229.6 486.4,222.8 486.2,222.4 485.9,222.1 485.6,222.0 485.1,222.3ZM472.9,222.0 472.4,222.2 471.3,223.3 471.1,223.9 471.3,224.4 472.4,225.5 472.9,225.7 473.4,225.5 474.5,224.4 474.7,223.9 474.5,223.3 473.4,222.2ZM464.4,222.0 462.0,222.1 459.9,223.2 459.5,223.5 458.5,225.7 458.4,226.0 458.4,229.6 458.4,229.6 456.0,229.6 455.6,229.8 455.3,230.1 455.2,230.4 455.3,230.7 455.7,231.1 458.4,231.1 458.4,231.2 458.4,244.8 458.4,244.9 456.0,244.9 455.6,245.0 455.4,245.2 455.2,245.6 455.4,246.0 455.7,246.3 456.0,246.4 463.4,246.4 463.8,246.2 464.0,245.9 464.1,245.6 464.0,245.3 463.6,244.9 461.0,244.9 460.9,244.8 460.9,231.2 461.0,231.1 464.4,231.1 464.8,231.0 465.0,230.8 465.2,230.4 465.0,230.0 464.8,229.8 464.4,229.6 461.0,229.6 460.9,229.6 460.9,226.2 461.8,224.4 462.7,223.5 463.6,223.5 463.6,223.6 462.9,224.4 462.7,225.0 462.9,225.5 463.9,226.6 464.4,226.8 465.0,226.6 466.0,225.5 466.2,225.0 466.2,223.6 466.0,223.3 465.0,222.2ZM364.6,222.1 364.3,222.4 364.2,222.8 364.3,223.2 364.5,223.4 364.9,223.5 367.3,223.5 367.3,223.6 367.3,244.8 367.3,244.9 364.6,244.9 364.2,245.3 364.2,245.6 364.2,245.9 364.5,246.2 364.9,246.4 372.3,246.4 372.6,246.3 372.9,246.0 373.0,245.6 372.9,245.2 372.7,245.0 372.3,244.9 369.9,244.9 369.9,244.8 369.9,222.8 369.8,222.5 369.5,222.2 369.1,222.0 364.9,222.0ZM356.4,222.0 355.9,222.2 354.8,223.3 354.6,223.9 354.8,224.4 355.9,225.5 356.4,225.7 356.9,225.5 358.0,224.4 358.2,223.9 358.0,223.3 356.9,222.2ZM326.4,222.2 326.2,222.4 326.0,222.8 326.2,223.2 326.4,223.4 326.8,223.5 329.3,223.5 329.4,223.8 330.7,230.9 330.9,232.0 330.9,232.3 331.2,233.4 331.2,233.7 331.5,234.8 331.5,235.2 331.7,236.2 331.7,236.6 332.0,237.7 332.0,238.0 332.3,239.1 332.3,239.4 332.5,240.5 332.5,240.9 332.8,241.9 332.8,242.3 333.0,243.4 333.0,243.7 333.3,244.8 333.3,245.1 333.6,246.0 333.8,246.2 334.2,246.4 334.6,246.2 334.9,245.8 338.4,226.9 341.9,245.5 342.1,246.0 342.3,246.2 342.6,246.4 343.0,246.2 343.2,246.0 343.4,245.5 347.4,223.8 347.5,223.5 350.1,223.5 350.3,223.5 350.7,223.1 350.8,222.8 350.7,222.4 350.5,222.2 350.1,222.0 343.7,222.0 343.3,222.2 343.0,222.5 343.0,222.8 343.0,223.1 343.4,223.5 346.0,223.5 346.0,223.6 343.2,238.6 343.0,238.5 343.0,238.1 342.8,237.4 342.8,237.1 342.6,236.3 342.6,236.0 342.4,235.2 342.4,234.9 342.3,234.1 342.3,233.8 342.1,233.0 342.1,232.7 341.9,232.0 340.2,222.6 339.9,222.2 339.5,222.0 338.9,222.3 338.4,222.0 338.0,222.2 337.8,222.4 337.6,222.9 334.7,238.6 334.6,238.5 334.6,238.1 331.9,223.6 331.9,223.5 334.4,223.5 334.8,223.1 334.9,222.8 334.8,222.4 334.6,222.2 334.2,222.0 326.8,222.0ZM342.6,240.9 342.8,240.9 342.6,241.5 342.5,241.1ZM334.1,240.9 334.3,240.9 334.2,241.5 334.0,241.1Z" fill="#231f20" fill-rule="evenodd"/>
<path d="M605.6,360.7 605.3,361.0 605.2,361.4 605.3,361.8 605.5,362.0 605.9,362.1 608.3,362.1 608.4,362.2 608.4,375.8 608.3,375.9 605.6,375.9 605.2,376.3 605.2,376.6 605.2,376.9 605.5,377.2 605.9,377.4 613.3,377.4 613.6,377.3 613.9,377.0 614.1,376.6 613.9,376.2 613.7,376.0 613.3,375.9 610.9,375.9 610.9,375.8 610.9,361.4 610.8,361.1 610.5,360.8 610.1,360.6 605.9,360.6ZM556.8,360.7 556.5,361.0 556.4,361.4 556.5,361.8 556.7,362.0 557.1,362.1 559.5,362.1 559.6,362.2 559.6,375.8 559.5,375.9 556.8,375.9 556.4,376.3 556.4,376.6 556.4,376.9 556.7,377.2 557.1,377.4 564.5,377.4 564.8,377.3 565.1,377.0 565.3,376.6 565.1,376.2 564.9,376.0 564.5,375.9 562.1,375.9 562.1,375.8 562.1,367.9 562.9,365.3 565.1,363.0 566.8,362.1 569.0,362.1 569.0,362.2 568.2,363.0 568.0,363.6 568.2,364.1 569.3,365.2 569.8,365.4 570.4,365.2 571.4,364.1 571.6,363.6 571.6,362.2 571.4,361.9 570.4,360.9 569.8,360.6 566.7,360.6 566.3,360.7 564.0,361.9 562.1,363.8 562.1,363.8 562.1,361.4 561.9,361.0 561.7,360.8 561.4,360.6 557.1,360.6ZM544.4,360.6 541.1,361.7 540.7,361.9 538.5,364.1 537.4,367.6 537.3,370.1 538.3,373.5 538.5,373.9 540.7,376.1 544.0,377.3 546.5,377.4 549.8,376.3 550.2,376.1 552.3,373.9 552.5,373.4 552.4,372.9 552.2,372.7 551.8,372.6 551.3,372.8 549.1,375.0 546.5,375.9 544.5,375.9 542.8,375.0 540.7,372.9 539.8,370.1 539.8,368.7 539.9,368.7 551.8,368.7 552.2,368.5 552.5,368.2 552.5,365.7 552.5,365.4 551.4,363.2 550.0,361.8 547.9,360.7 547.6,360.6ZM540.1,367.1 540.7,365.1 542.8,363.0 544.5,362.1 547.4,362.1 549.0,363.0 549.2,363.2 550.0,364.8 550.0,367.1 549.9,367.2 540.1,367.2ZM516.4,360.8 516.2,361.0 516.1,361.4 516.2,361.8 516.4,362.0 516.8,362.1 518.4,362.1 518.5,362.3 524.6,376.8 525.0,377.3 525.3,377.4 525.7,377.2 526.0,376.8 532.0,362.3 532.2,362.1 533.8,362.1 534.2,362.0 534.4,361.8 534.5,361.4 534.4,361.0 534.2,360.8 533.8,360.6 527.4,360.6 527.0,360.8 526.8,361.0 526.7,361.4 526.7,361.7 527.1,362.1 527.4,362.1 530.5,362.1 530.5,362.3 525.7,373.6 525.5,373.1 521.1,362.3 521.2,362.1 523.4,362.1 523.8,361.7 523.9,361.4 523.8,361.0 523.6,360.8 523.2,360.6 516.8,360.6ZM504.1,360.6 500.8,361.7 500.4,361.9 498.2,364.1 497.0,367.6 497.0,370.1 498.0,373.5 498.2,373.9 500.4,376.1 503.7,377.3 506.2,377.4 509.5,376.3 509.9,376.1 512.0,373.9 513.2,370.4 513.3,367.9 512.2,364.5 512.0,364.1 509.9,361.9 506.5,360.7ZM504.2,362.1 506.1,362.1 507.8,363.0 509.8,365.1 510.8,367.9 510.8,370.1 509.8,372.9 507.8,375.0 506.1,375.9 504.2,375.9 502.5,375.0 500.4,372.9 499.5,370.1 499.5,367.9 500.4,365.1 502.5,363.0ZM620.8,353.0 620.4,353.2 620.2,353.4 620.0,353.8 620.0,360.6 620.0,360.6 617.6,360.6 617.2,360.8 617.0,361.0 616.8,361.4 617.0,361.8 617.3,362.1 620.0,362.1 620.0,362.2 620.0,372.3 621.2,375.9 621.5,376.2 623.6,377.3 623.9,377.4 626.4,377.3 628.5,376.2 628.8,375.9 629.9,373.7 630.0,373.4 629.8,372.9 629.6,372.7 629.2,372.6 628.8,372.7 628.6,373.0 627.7,374.9 627.5,375.1 625.9,375.9 624.3,375.9 623.4,374.9 622.5,372.3 622.5,362.2 622.6,362.1 626.1,362.1 626.5,362.0 626.7,361.8 626.8,361.4 626.7,361.0 626.5,360.8 626.1,360.6 622.6,360.6 622.5,360.6 622.5,353.8 622.4,353.4 622.1,353.1 621.8,353.0 621.3,353.3ZM609.1,353.0 608.6,353.2 607.5,354.3 607.3,354.9 607.5,355.4 608.6,356.5 609.1,356.7 609.6,356.5 610.7,355.4 610.9,354.9 610.7,354.3 609.6,353.2ZM600.6,353.0 598.1,353.1 596.0,354.2 595.7,354.5 594.6,356.7 594.6,357.0 594.6,360.6 594.5,360.6 592.1,360.6 591.7,360.8 591.4,361.1 591.4,361.4 591.4,361.7 591.8,362.1 594.5,362.1 594.6,362.2 594.6,375.8 594.5,375.9 592.1,375.9 591.7,376.0 591.5,376.2 591.4,376.6 591.5,377.0 591.8,377.3 592.1,377.4 599.5,377.4 599.9,377.2 600.2,376.9 600.3,376.6 600.2,376.3 599.8,375.9 597.2,375.9 597.1,375.8 597.1,362.2 597.2,362.1 600.6,362.1 601.0,362.0 601.2,361.8 601.3,361.4 601.2,361.0 601.0,360.8 600.6,360.6 597.2,360.6 597.1,360.6 597.1,357.2 597.9,355.4 598.8,354.5 599.7,354.5 599.8,354.6 599.0,355.4 598.8,356.0 599.0,356.5 600.1,357.6 600.6,357.8 601.1,357.6 602.2,356.5 602.4,356.0 602.3,354.6 602.2,354.3 601.1,353.2ZM484.7,353.1 484.4,353.4 484.2,353.8 484.4,354.2 484.6,354.4 485.0,354.5 487.4,354.5 487.4,354.6 487.4,375.8 487.4,375.9 484.7,375.9 484.3,376.3 484.2,376.6 484.3,376.9 484.6,377.2 485.0,377.4 492.4,377.4 492.7,377.3 493.0,377.0 493.1,376.6 493.0,376.2 492.8,376.0 492.4,375.9 490.0,375.9 489.9,375.8 489.9,353.8 489.9,353.5 489.6,353.2 489.2,353.0 485.0,353.0ZM479.9,353.1 479.7,353.0 479.4,353.1 479.1,353.4 478.3,355.6 477.0,354.3 473.6,353.1 473.3,353.0 470.9,353.1 467.5,354.3 465.2,356.7 464.2,358.9 463.0,362.5 463.0,367.9 464.2,371.5 465.2,373.7 467.5,376.1 470.9,377.3 473.3,377.4 476.6,376.3 477.0,376.1 479.3,373.7 480.3,371.5 480.4,371.2 480.3,370.8 480.1,370.6 479.7,370.4 479.3,370.6 479.0,370.8 478.1,372.8 475.9,375.0 473.3,375.9 471.3,375.9 469.6,375.0 467.5,372.8 466.5,370.8 465.6,367.9 465.6,362.5 466.5,359.6 467.5,357.6 469.6,355.4 471.3,354.5 473.3,354.5 476.0,355.5 478.0,357.5 479.1,360.7 479.3,360.9 479.7,361.1 480.1,360.9 480.3,360.7 480.4,360.3 480.4,353.8 480.3,353.4Z" fill="#2e3192" fill-rule="evenodd"/>
<path d="M143.7,721.7 141.2,722.5 140.7,723.0 139.2,725.1 139.1,725.5 138.2,729.6 138.2,732.0 139.1,736.1 140.7,738.8 141.1,739.1 143.4,739.8 145.4,739.9 148.0,739.1 148.4,738.8 149.9,736.5 150.1,736.1 150.9,732.0 150.9,729.6 150.1,725.5 148.4,723.0 147.9,722.5 145.7,721.8ZM143.9,723.1 145.2,723.1 146.6,723.8 147.2,724.5 147.9,725.9 148.7,729.6 148.7,732.0 147.9,735.8 147.2,737.2 146.5,737.9 145.2,738.5 143.9,738.5 142.6,737.8 141.9,737.2 141.2,735.8 140.4,732.0 140.4,729.6 141.2,725.9 141.9,724.5 142.6,723.8Z" fill="#231f20" fill-rule="evenodd"/>
<path d="M273.3,736.9 272.9,737.0 272.0,737.8 271.8,738.4 272.0,738.9 272.8,739.7 273.3,739.9 273.8,739.7 274.6,738.9 274.8,738.4 274.6,737.9 273.7,737.0ZM281.2,722.5 280.8,722.7 280.0,723.5 279.0,725.6 279.0,726.6 280.0,727.7 280.5,727.9 281.0,727.7 281.8,726.9 282.0,726.4 281.8,725.9 280.8,725.0 281.0,724.5 281.7,723.8 283.8,723.1 286.7,723.1 288.0,723.7 288.8,724.5 289.4,725.8 289.4,727.0 288.7,728.4 286.6,729.8 281.9,732.1 280.0,733.9 279.8,734.3 279.0,736.8 279.0,739.2 279.0,739.5 279.4,739.8 279.7,739.9 280.0,739.8 280.2,739.6 280.4,739.2 280.4,737.9 280.7,737.5 282.0,737.5 285.9,739.8 286.1,739.9 289.3,739.9 289.8,739.7 290.6,738.9 291.5,737.1 291.6,735.2 291.5,734.8 291.2,734.6 290.9,734.5 290.7,734.6 290.3,735.0 290.2,736.5 289.7,737.0 288.4,737.7 286.2,737.7 282.4,736.1 282.3,736.2 280.7,736.1 280.7,736.0 281.1,734.8 282.5,733.3 284.2,732.5 287.7,731.1 288.0,731.0 288.2,731.0 290.4,729.5 290.7,729.1 291.5,727.5 291.6,727.2 291.5,725.3 290.7,723.7 289.8,722.7 289.5,722.5 286.9,721.7 283.7,721.7ZM260.5,721.7 257.9,722.5 257.4,723.0 256.0,725.1 255.8,725.5 255.0,729.6 255.0,732.0 255.8,736.1 257.5,738.8 257.9,739.1 260.1,739.8 262.1,739.9 264.7,739.1 265.1,738.8 266.6,736.5 266.8,736.1 267.6,732.0 267.6,729.6 266.8,725.5 265.2,723.0 264.7,722.5 262.4,721.8ZM260.7,723.1 261.9,723.1 263.3,723.8 264.0,724.5 264.7,725.9 265.4,729.6 265.4,732.0 264.7,735.8 263.9,737.2 263.2,737.9 262.0,738.5 260.7,738.5 259.3,737.8 258.7,737.2 257.9,735.8 257.2,732.0 257.2,729.6 257.9,725.9 258.6,724.5 259.3,723.8Z" fill="#231f20" fill-rule="evenodd"/>
<path d="M402.0,736.9 401.6,737.0 400.7,737.8 400.5,738.4 400.6,738.9 401.5,739.7 402.0,739.9 402.5,739.7 403.3,738.9 403.5,738.4 403.3,737.9 402.3,737.0ZM416.3,721.7 416.0,721.8 407.0,734.0 406.9,734.4 407.0,734.8 407.2,735.0 407.6,735.1 414.8,735.1 414.9,735.1 414.9,738.5 414.8,738.5 413.1,738.5 412.8,738.6 412.5,739.0 412.5,739.2 412.5,739.5 412.8,739.8 413.1,739.9 418.8,739.9 419.1,739.8 419.3,739.6 419.5,739.2 419.3,738.8 419.1,738.6 418.8,738.5 417.1,738.5 417.0,738.5 417.0,735.1 417.1,735.1 420.3,735.1 420.7,735.0 420.9,734.8 421.0,734.4 420.9,734.0 420.7,733.8 420.3,733.7 417.1,733.7 417.0,733.6 417.0,722.4 416.9,722.0 416.7,721.8ZM414.8,725.7 414.9,725.8 414.9,733.6 414.8,733.7 409.0,733.7 409.0,733.6ZM389.1,721.7 386.6,722.5 386.1,723.0 384.6,725.1 384.5,725.5 383.6,729.6 383.6,732.0 384.5,736.1 386.1,738.8 386.5,739.1 388.8,739.8 390.8,739.9 393.4,739.1 393.8,738.8 395.3,736.5 395.5,736.1 396.3,732.0 396.3,729.6 395.5,725.5 393.8,723.0 393.3,722.5 391.1,721.8ZM389.3,723.1 390.6,723.1 392.0,723.8 392.6,724.5 393.3,725.9 394.1,729.6 394.1,732.0 393.3,735.8 392.6,737.2 391.9,737.9 390.6,738.5 389.3,738.5 388.0,737.8 387.3,737.2 386.6,735.8 385.8,732.0 385.8,729.6 386.6,725.9 387.3,724.5 388.0,723.8Z" fill="#231f20" fill-rule="evenodd"/>
<path d="M531.4,736.9 531.0,737.0 530.1,737.8 529.9,738.4 530.1,738.9 530.9,739.7 531.4,739.9 531.9,739.7 532.7,738.9 532.9,738.4 532.7,737.9 531.7,737.0ZM545.7,721.7 543.4,721.7 540.8,722.5 540.5,722.7 538.9,724.3 537.9,726.1 537.1,729.6 537.1,734.4 538.0,737.2 539.9,739.1 542.2,739.8 544.2,739.9 546.8,739.1 548.7,737.2 549.7,734.4 549.6,733.3 548.7,730.7 546.9,729.0 544.4,728.1 544.3,728.2 543.1,728.1 540.6,729.0 539.3,730.3 539.2,730.2 539.2,729.6 539.9,726.9 540.7,725.2 542.2,723.7 543.5,723.1 545.6,723.1 546.9,723.8 547.1,724.2 546.9,724.3 546.0,725.2 545.9,725.6 546.1,726.1 546.9,726.9 547.4,727.1 547.9,726.9 548.7,726.1 548.9,725.6 548.8,724.5 548.0,722.9 547.7,722.6 546.1,721.8ZM543.4,729.5 544.1,729.5 545.4,730.1 546.8,731.6 547.5,733.7 547.5,734.3 546.8,736.4 545.3,737.9 544.1,738.5 542.7,738.5 541.4,737.8 539.9,736.4 539.2,734.3 539.2,733.7 539.9,731.6 541.3,730.2ZM518.6,721.7 516.0,722.5 515.5,723.0 514.1,725.1 513.9,725.5 513.1,729.6 513.1,732.0 513.9,736.1 515.6,738.8 515.9,739.1 518.2,739.8 520.2,739.9 522.8,739.1 523.2,738.8 524.7,736.5 524.9,736.1 525.7,732.0 525.7,729.6 524.9,725.5 523.2,723.0 522.7,722.5 520.5,721.8ZM518.7,723.1 520.0,723.1 521.4,723.8 522.1,724.5 522.7,725.9 523.5,729.6 523.5,732.0 522.7,735.8 522.0,737.2 521.3,737.9 520.1,738.5 518.7,738.5 517.4,737.8 516.7,737.2 516.0,735.8 515.2,732.0 515.2,729.6 516.0,725.9 516.7,724.5 517.4,723.8Z" fill="#231f20" fill-rule="evenodd"/>
<path d="M660.4,736.9 660.0,737.0 659.2,737.8 658.9,738.4 659.1,738.9 659.9,739.7 660.4,739.9 660.9,739.7 661.7,738.9 661.9,738.4 661.7,737.9 660.8,737.0ZM670.8,721.7 668.0,722.6 667.8,722.9 667.0,724.5 666.9,724.8 667.0,727.5 667.8,729.1 668.0,729.4 668.5,729.6 667.9,729.9 667.1,730.7 666.2,732.4 666.1,732.8 666.1,736.0 667.1,738.1 667.9,738.9 668.2,739.1 670.8,739.9 674.0,739.9 676.6,739.1 676.9,738.9 677.7,738.1 678.7,736.3 678.7,736.0 678.7,732.8 678.6,732.4 677.7,730.7 676.9,729.9 676.3,729.6 676.4,729.5 676.8,729.4 677.0,729.1 677.8,727.5 677.9,724.8 677.8,724.5 677.0,722.9 676.6,722.5 674.0,721.7ZM671.0,730.3 673.8,730.3 675.1,730.9 675.9,731.7 676.5,733.0 676.5,735.8 675.8,737.2 675.2,737.8 673.9,738.5 671.0,738.5 669.6,737.8 669.0,737.2 668.3,735.8 668.3,733.0 668.9,731.7 669.7,731.0ZM669.7,723.8 669.8,723.6 671.0,723.1 673.8,723.1 675.0,723.6 675.2,723.8 675.7,725.0 675.7,727.1 675.2,728.2 675.0,728.4 674.0,728.9 670.9,728.9 669.8,728.3 669.1,727.1 669.1,725.0ZM647.6,721.7 645.0,722.5 644.5,723.0 643.1,725.1 642.9,725.5 642.1,729.6 642.1,732.0 642.9,736.1 644.6,738.8 645.0,739.1 647.2,739.8 649.2,739.9 651.8,739.1 652.2,738.8 653.7,736.5 653.9,736.1 654.7,732.0 654.7,729.6 653.9,725.5 652.3,723.0 651.8,722.5 649.5,721.8ZM647.8,723.1 649.0,723.1 650.4,723.8 651.1,724.5 651.8,725.9 652.5,729.6 652.5,732.0 651.8,735.8 651.0,737.2 650.3,737.9 649.1,738.5 647.8,738.5 646.4,737.8 645.8,737.2 645.0,735.8 644.3,732.0 644.3,729.6 645.0,725.9 645.7,724.5 646.4,723.8Z" fill="#231f20" fill-rule="evenodd"/>
<path d="M124.2,638.2 121.7,639.0 121.4,639.2 120.5,640.0 119.6,641.8 119.5,642.1 119.6,643.1 120.5,644.2 121.0,644.4 121.5,644.2 122.4,643.4 122.5,642.9 122.4,642.4 121.4,641.5 121.6,641.0 122.4,640.2 124.4,639.6 127.3,639.6 128.4,640.1 128.6,640.3 129.2,641.5 129.2,643.6 128.6,644.7 128.4,644.9 127.4,645.4 125.0,645.4 124.8,645.5 124.5,645.7 124.4,646.1 124.5,646.5 124.7,646.6 125.0,646.8 127.3,646.8 128.5,647.4 129.3,648.1 130.0,650.2 130.0,652.3 129.3,653.7 128.7,654.3 127.4,655.0 124.3,655.0 122.4,654.4 122.0,654.1 121.7,653.8 121.4,653.1 122.4,652.2 122.5,651.7 122.4,651.2 121.5,650.4 121.0,650.2 120.5,650.4 119.8,651.1 119.5,651.7 119.5,652.5 120.5,654.6 121.4,655.4 121.7,655.6 124.2,656.4 127.5,656.4 130.0,655.6 130.4,655.4 131.2,654.6 132.1,652.8 132.2,652.5 132.2,650.1 132.1,649.8 131.2,648.0 129.4,646.3 129.5,646.1 130.2,645.9 130.5,645.6 131.3,644.0 131.4,641.3 131.3,641.0 130.5,639.4 130.0,639.0 127.5,638.2Z" fill="#231f20" fill-rule="evenodd"/>
<path d="M113.9,524.4 113.5,524.5 112.6,525.3 112.4,525.9 112.5,526.4 113.4,527.2 113.9,527.4 114.4,527.2 115.2,526.4 115.4,525.9 115.2,525.4 114.2,524.5ZM121.6,509.3 121.3,509.5 121.1,510.0 119.5,517.9 119.7,518.3 120.0,518.5 120.2,518.6 120.7,518.4 122.2,516.9 124.2,516.2 126.5,516.2 127.9,516.9 129.3,518.3 130.0,520.4 130.0,521.8 129.3,523.9 127.8,525.4 126.5,526.0 124.3,526.0 122.4,525.4 122.0,525.1 121.7,524.8 121.4,524.1 122.4,523.2 122.5,522.7 122.4,522.2 121.5,521.4 121.0,521.2 120.5,521.4 119.8,522.1 119.5,522.7 119.6,523.8 120.4,525.4 121.4,526.4 121.7,526.6 123.9,527.3 126.7,527.4 129.3,526.6 131.2,524.7 132.1,522.2 132.2,520.3 131.4,517.8 131.2,517.4 129.3,515.6 126.9,514.8 126.8,514.9 126.7,514.8 124.2,514.8 124.1,514.9 124.0,514.8 121.8,515.6 121.5,515.8 121.4,515.7 121.4,515.5 122.2,511.7 122.3,511.4 125.9,511.4 125.9,511.3 126.0,511.4 129.8,510.6 130.2,510.5 130.4,510.3 130.5,509.9 130.5,509.6 130.2,509.3 129.9,509.2 121.9,509.2ZM121.4,515.8 121.4,515.7 121.5,515.8 121.4,515.8ZM100.2,509.2 97.7,510.0 97.4,510.2 96.5,511.0 95.6,512.8 95.5,513.1 95.6,514.1 96.5,515.2 97.0,515.4 97.5,515.2 98.4,514.4 98.5,513.9 98.4,513.4 97.4,512.5 97.6,512.0 98.4,511.2 100.4,510.6 103.3,510.6 104.4,511.1 104.6,511.3 105.2,512.5 105.2,514.6 104.6,515.7 104.4,515.9 103.4,516.4 101.0,516.4 100.8,516.5 100.5,516.7 100.4,517.1 100.5,517.5 100.7,517.6 101.0,517.8 103.3,517.8 104.5,518.4 105.3,519.1 106.0,521.2 106.0,523.3 105.3,524.7 104.7,525.3 103.4,526.0 100.3,526.0 98.4,525.4 98.0,525.1 97.7,524.8 97.4,524.1 98.4,523.2 98.5,522.7 98.4,522.2 97.5,521.4 97.0,521.2 96.5,521.4 95.8,522.1 95.5,522.7 95.5,523.5 96.5,525.6 97.4,526.4 97.7,526.6 100.2,527.4 103.5,527.4 106.0,526.6 106.4,526.4 107.2,525.6 108.1,523.8 108.2,523.5 108.2,521.1 108.1,520.8 107.2,519.0 105.4,517.3 105.5,517.1 106.2,516.9 106.5,516.6 107.3,515.0 107.4,512.3 107.3,512.0 106.5,510.4 106.0,510.0 103.5,509.2Z" fill="#231f20" fill-rule="evenodd"/>
<path d="M127.5,380.2 127.1,380.3 118.2,392.5 118.0,392.9 118.2,393.3 118.4,393.5 118.7,393.6 126.0,393.6 126.0,393.6 126.0,397.0 126.0,397.0 124.3,397.0 123.9,397.1 123.7,397.5 123.6,397.7 123.7,398.0 123.9,398.3 124.3,398.4 129.9,398.4 130.3,398.3 130.5,398.1 130.6,397.7 130.5,397.3 130.3,397.1 129.9,397.0 128.2,397.0 128.2,397.0 128.2,393.6 128.2,393.6 131.5,393.6 131.9,393.5 132.0,393.3 132.2,392.9 132.0,392.5 131.9,392.3 131.5,392.2 128.2,392.2 128.2,392.1 128.2,380.9 128.0,380.5 127.9,380.3ZM126.0,384.2 126.0,384.3 126.0,392.1 126.0,392.2 120.2,392.2 120.1,392.1Z" fill="#231f20" fill-rule="evenodd"/>
<path d="M113.9,266.4 113.5,266.5 112.6,267.3 112.4,267.9 112.5,268.4 113.4,269.2 113.9,269.4 114.4,269.2 115.2,268.4 115.4,267.9 115.2,267.4 114.2,266.5ZM121.6,251.3 121.3,251.5 121.1,252.0 119.5,259.9 119.7,260.3 120.0,260.5 120.2,260.6 120.7,260.4 122.2,258.9 124.2,258.2 126.5,258.2 127.9,258.9 129.3,260.3 130.0,262.4 130.0,263.8 129.3,265.9 127.8,267.4 126.5,268.0 124.3,268.0 122.4,267.4 122.0,267.1 121.7,266.8 121.4,266.1 122.4,265.2 122.5,264.7 122.4,264.2 121.5,263.4 121.0,263.2 120.5,263.4 119.8,264.1 119.5,264.7 119.6,265.8 120.4,267.4 121.4,268.4 121.7,268.6 123.9,269.3 126.7,269.4 129.3,268.6 131.2,266.7 132.1,264.2 132.2,262.3 131.4,259.8 131.2,259.4 129.3,257.6 126.9,256.8 126.8,256.9 126.7,256.8 124.2,256.8 124.1,256.9 124.0,256.8 121.8,257.6 121.5,257.8 121.4,257.7 121.4,257.5 122.2,253.7 122.3,253.4 125.9,253.4 125.9,253.3 126.0,253.4 129.8,252.6 130.2,252.5 130.4,252.3 130.5,251.9 130.5,251.6 130.2,251.3 129.9,251.2 121.9,251.2ZM121.4,257.8 121.4,257.7 121.5,257.8 121.4,257.8ZM104.2,251.2 103.9,251.3 94.9,263.5 94.8,263.9 94.9,264.3 95.1,264.5 95.5,264.6 102.7,264.6 102.8,264.6 102.8,268.0 102.7,268.0 101.0,268.0 100.7,268.1 100.4,268.5 100.4,268.7 100.4,269.0 100.7,269.3 101.0,269.4 106.7,269.4 107.0,269.3 107.2,269.1 107.4,268.7 107.2,268.3 107.0,268.1 106.7,268.0 105.0,268.0 104.9,268.0 104.9,264.6 105.0,264.6 108.2,264.6 108.6,264.5 108.8,264.3 108.9,263.9 108.8,263.5 108.6,263.3 108.2,263.2 105.0,263.2 104.9,263.1 104.9,251.9 104.8,251.5 104.6,251.3ZM102.7,255.2 102.8,255.3 102.8,263.1 102.7,263.2 96.9,263.2 96.9,263.1Z" fill="#231f20" fill-rule="evenodd"/>
<path d="M545.5,441.4 542.3,441.4 539.0,442.5 538.6,442.7 536.5,444.8 536.5,444.9 536.3,445.1 535.4,446.9 534.2,451.6 534.2,451.6 534.2,451.7 534.2,458.1 535.3,461.5 537.8,464.1 540.9,465.1 541.3,465.2 543.7,465.1 546.8,464.1 547.1,463.9 549.4,461.5 550.4,458.3 550.4,458.3 550.4,458.1 550.4,456.9 550.4,456.8 549.4,453.7 549.2,453.3 546.9,451.1 543.7,450.0 543.5,450.0 543.3,450.0 542.1,450.0 542.1,450.0 538.7,451.1 536.7,453.2 536.6,453.1 536.6,451.7 537.6,447.9 538.6,445.8 540.7,443.7 542.5,442.8 545.3,442.8 547.1,443.8 547.6,444.7 547.1,444.8 546.0,446.0 545.9,446.4 546.1,446.9 547.1,448.0 547.6,448.1 548.0,448.0 549.2,446.9 549.4,446.4 549.3,445.0 548.2,442.8 548.0,442.6 545.8,441.5ZM542.3,451.4 543.3,451.4 545.1,452.3 547.0,454.2 548.0,457.0 548.0,458.2 547.0,460.9 545.0,462.9 543.2,463.8 541.4,463.8 539.6,462.9 537.6,460.9 536.6,458.1 536.6,457.1 537.6,454.2 539.5,452.3ZM547.9,446.0 548.0,446.1 547.6,446.4 547.5,446.4ZM522.5,441.5 520.0,441.4 516.4,442.6 514.0,445.1 513.0,448.1 512.9,448.5 513.0,449.9 514.0,453.0 516.4,455.5 519.7,456.6 521.1,456.7 524.8,455.4 526.7,453.5 526.7,453.5 526.7,455.0 525.8,458.8 524.8,460.9 522.7,462.9 521.0,463.8 518.1,463.8 516.2,462.8 515.8,462.0 516.2,461.9 517.3,460.8 517.5,460.2 517.3,459.7 516.2,458.6 515.8,458.5 515.3,458.7 514.2,459.7 514.0,460.2 514.1,461.7 515.1,463.7 515.5,464.1 517.6,465.1 517.9,465.2 521.1,465.2 524.4,464.1 524.8,463.9 527.0,461.7 528.2,459.2 529.2,455.1 529.1,455.0 529.2,454.9 529.2,448.5 529.1,448.5 529.2,448.3 528.2,445.2 528.0,445.0 527.9,444.8 525.8,442.7 525.5,442.5ZM515.4,460.6 515.5,460.5 515.5,460.6 515.5,460.6ZM515.5,460.5 515.5,460.4 515.6,460.5 515.5,460.6ZM515.5,460.4 515.6,460.4 515.7,460.4 515.6,460.5ZM515.6,460.4 515.7,460.2 515.8,460.2 515.7,460.4ZM521.9,442.8 523.8,443.8 525.8,445.7 526.7,448.5 526.7,449.6 525.8,452.4 523.9,454.3 520.9,455.3 520.2,455.3 518.3,454.4 516.4,452.4 515.4,449.5 515.4,448.5 516.4,445.7 518.4,443.7 520.1,442.8ZM501.2,441.5 498.8,441.4 495.2,442.6 492.8,445.1 491.8,448.1 491.7,448.5 491.8,449.9 492.8,453.0 495.2,455.5 498.5,456.6 499.9,456.7 503.5,455.4 505.4,453.5 505.5,453.5 505.5,455.0 504.5,458.8 503.5,460.9 501.4,462.9 499.7,463.8 496.8,463.8 495.0,462.8 494.6,462.0 494.9,461.9 496.1,460.8 496.3,460.2 496.1,459.7 494.9,458.6 494.5,458.5 494.0,458.7 493.0,459.7 492.8,460.2 492.8,461.7 493.8,463.7 494.3,464.1 496.3,465.1 496.6,465.2 499.9,465.2 503.2,464.1 503.5,463.9 505.7,461.7 506.9,459.2 507.9,455.1 507.9,455.0 507.9,454.9 507.9,448.5 507.9,448.5 507.9,448.3 506.9,445.2 506.7,445.0 506.7,444.8 504.6,442.7 504.3,442.5ZM494.2,460.6 494.2,460.5 494.3,460.6 494.2,460.6ZM494.2,460.5 494.3,460.4 494.4,460.5 494.3,460.6ZM494.3,460.4 494.4,460.4 494.4,460.4 494.4,460.5ZM494.4,460.4 494.5,460.2 494.6,460.2 494.4,460.4ZM500.7,442.8 502.6,443.8 504.5,445.7 505.5,448.5 505.5,449.6 504.5,452.4 502.6,454.3 499.7,455.3 499.0,455.3 497.1,454.4 495.1,452.4 494.2,449.5 494.2,448.5 495.1,445.7 497.1,443.7 498.9,442.8ZM479.6,441.4 479.2,441.6 476.0,444.8 473.9,445.8 473.7,446.0 473.6,446.4 473.7,446.8 473.9,446.9 474.3,447.1 474.7,447.0 476.8,445.9 477.9,444.9 477.9,445.0 477.9,463.7 477.9,463.8 474.3,463.8 474.1,463.9 473.7,464.1 473.6,464.5 473.7,464.9 473.9,465.1 474.3,465.2 483.9,465.2 484.3,465.1 484.5,464.9 484.6,464.5 484.5,464.1 484.3,463.9 483.9,463.8 480.4,463.8 480.3,463.7 480.3,442.1 480.2,441.7 480.0,441.6ZM414.5,441.6 414.3,441.7 414.2,442.1 414.3,442.5 414.6,442.8 414.9,442.8 417.3,442.8 417.4,442.9 417.4,463.7 417.3,463.8 414.9,463.8 414.6,463.9 414.3,464.2 414.2,464.5 414.3,464.9 414.5,465.1 414.9,465.2 425.5,465.2 428.9,464.1 429.2,463.9 431.4,461.7 432.5,459.6 433.6,456.2 433.5,456.1 433.6,456.0 433.6,450.7 433.5,450.5 433.6,450.4 432.5,447.1 431.4,445.0 429.2,442.7 428.9,442.5 425.5,441.4 414.9,441.4ZM419.9,442.8 425.3,442.8 427.1,443.7 429.2,445.8 430.2,447.8 431.1,450.7 431.1,456.0 430.2,458.9 429.2,460.9 427.1,462.9 425.4,463.8 419.9,463.8 419.8,463.7 419.8,442.9ZM395.4,441.6 395.2,441.7 395.0,442.1 395.2,442.5 395.5,442.8 395.7,442.8 398.2,442.8 398.3,442.9 398.3,463.7 398.2,463.8 395.7,463.8 395.5,463.9 395.1,464.2 395.0,464.5 395.2,464.9 395.4,465.1 395.7,465.2 411.7,465.2 412.1,465.1 412.2,464.9 412.4,464.5 412.4,458.1 412.2,457.7 412.1,457.5 411.7,457.4 411.3,457.5 411.0,458.0 410.1,463.6 410.0,463.8 400.7,463.8 400.7,463.7 400.7,442.9 400.7,442.8 403.2,442.8 403.6,442.7 403.8,442.5 403.9,442.1 403.8,441.7 403.6,441.6 403.2,441.4 395.7,441.4ZM380.9,441.4 377.5,442.5 377.2,442.7 374.9,445.0 373.9,447.1 372.7,451.7 372.7,454.9 373.9,459.5 374.9,461.6 377.2,463.9 377.4,464.0 377.5,464.1 380.5,465.1 383.0,465.2 386.4,464.1 386.7,463.9 388.9,461.7 390.1,459.2 391.1,455.1 391.1,455.0 391.1,454.9 391.1,451.7 391.1,451.6 391.1,451.5 390.1,447.4 389.2,445.5 388.8,444.8 386.7,442.7 386.4,442.5 383.4,441.5ZM381.0,442.8 382.8,442.8 384.6,443.7 386.7,445.8 387.7,447.8 388.7,451.6 388.7,455.0 387.6,459.0 386.7,460.9 384.6,462.9 382.9,463.8 381.0,463.8 379.2,462.9 377.2,460.8 376.2,458.9 375.2,454.9 375.2,451.8 376.2,447.8 377.2,445.7 379.2,443.7ZM557.4,438.1 555.5,438.1 555.6,438.4 557.7,440.5 559.8,444.7 560.8,447.7 561.8,452.8 561.8,457.0 560.7,462.3 559.7,465.3 557.7,469.4 555.6,471.5 555.4,472.0 555.5,472.4 555.7,472.5 556.1,472.7 556.5,472.5 558.9,470.1 561.0,466.9 563.2,462.5 564.3,457.0 564.3,452.8 563.1,447.1 560.9,442.6 558.8,439.6ZM463.6,438.1 462.1,439.7 462.1,439.6 460.0,442.6 457.8,447.2 456.7,452.5 456.7,452.7 456.7,452.8 456.7,457.0 456.7,457.1 456.7,457.4 457.7,462.5 459.9,467.0 462.1,470.2 464.4,472.5 464.8,472.7 465.1,472.5 465.3,472.4 465.5,472.0 465.3,471.5 463.2,469.4 461.2,465.3 460.2,462.3 459.1,457.0 459.1,452.8 460.1,447.8 461.1,444.7 463.2,440.5 465.3,438.4 465.4,438.1Z" fill="#00a651" fill-rule="evenodd"/>
<path d="M541.6,479.8 541.3,480.0 541.2,480.4 541.2,486.8 541.3,487.2 541.5,487.4 541.9,487.5 542.3,487.4 542.5,487.1 542.6,484.8 543.4,483.1 545.3,482.2 547.2,482.2 552.5,484.4 554.9,484.3 555.2,484.1 556.0,483.3 556.1,483.3 556.1,483.6 555.1,486.4 549.7,491.8 548.7,493.9 547.6,497.2 547.7,497.3 547.6,497.5 547.6,502.8 547.7,503.0 547.9,503.4 548.3,503.5 548.8,503.2 549.1,503.4 549.3,503.5 549.6,503.4 549.9,503.2 550.0,502.8 550.0,497.6 550.9,494.7 552.0,492.5 556.1,487.5 556.4,487.0 557.5,483.7 557.5,480.4 557.4,480.2 557.0,479.8 556.8,479.7 556.4,479.9 556.1,480.1 555.2,482.1 554.3,483.0 552.7,483.0 547.6,479.9 547.2,479.7 544.8,479.8 544.6,479.9 542.7,481.8 542.6,481.8 542.5,480.2 542.2,479.8 541.9,479.7ZM529.5,479.8 527.0,479.7 523.7,480.8 523.3,481.0 521.2,483.1 521.1,483.3 520.9,483.5 519.9,486.6 520.0,486.7 519.9,486.8 520.0,488.0 519.9,488.1 521.0,491.3 523.3,493.7 523.7,493.9 527.0,495.0 528.4,494.9 531.8,493.7 533.7,491.8 533.7,491.8 533.7,493.3 532.7,497.3 531.8,499.2 529.7,501.2 527.9,502.1 525.0,502.1 523.2,501.1 522.8,500.3 523.3,500.1 524.3,499.1 524.5,498.5 524.3,498.0 523.2,497.0 522.7,496.8 522.3,496.9 521.2,498.0 521.0,498.5 521.1,500.0 522.1,502.0 522.5,502.4 524.5,503.4 528.0,503.5 531.5,502.4 531.8,502.2 534.0,499.9 535.2,497.5 536.2,493.4 536.1,493.3 536.2,493.2 536.2,486.8 535.1,483.4 532.5,480.8ZM522.4,498.8 522.5,498.7 522.5,498.8 522.5,498.9ZM522.5,498.7 522.5,498.7 522.6,498.7 522.5,498.8ZM522.5,498.7 522.6,498.6 522.7,498.7 522.6,498.7ZM522.6,498.6 522.7,498.5 522.7,498.6 522.7,498.7ZM522.7,498.5 522.7,498.5 522.8,498.5 522.7,498.6ZM528.9,481.1 530.8,482.1 532.8,484.0 533.7,486.8 533.7,487.8 532.8,490.7 530.9,492.6 527.9,493.6 527.2,493.6 525.3,492.7 523.4,490.7 522.4,487.9 522.4,486.8 523.4,484.0 525.4,482.0 527.1,481.1ZM508.2,479.8 505.8,479.7 502.4,480.8 502.0,481.0 499.9,483.1 499.9,483.3 499.7,483.5 498.7,486.6 498.7,486.7 498.7,486.8 498.7,488.0 498.7,488.1 499.7,491.3 502.0,493.7 502.4,493.9 505.8,495.0 507.1,494.9 510.5,493.7 512.4,491.8 512.5,491.8 512.5,493.3 511.5,497.3 510.5,499.2 508.4,501.2 506.6,502.1 503.7,502.1 502.0,501.1 501.6,500.3 502.0,500.1 503.0,499.1 503.2,498.5 503.0,498.0 502.0,497.0 501.5,496.8 501.1,496.9 499.9,498.0 499.7,498.5 499.8,500.0 500.8,502.0 501.2,502.4 503.2,503.4 506.8,503.5 510.2,502.4 510.5,502.2 512.8,499.9 513.9,497.5 514.9,493.4 514.9,493.3 514.9,493.2 514.9,486.8 513.9,483.4 511.3,480.8ZM501.1,498.8 501.2,498.7 501.3,498.8 501.2,498.9ZM501.2,498.7 501.3,498.7 501.3,498.7 501.3,498.8ZM501.3,498.7 501.3,498.6 501.4,498.7 501.3,498.7ZM501.3,498.6 501.4,498.5 501.5,498.6 501.4,498.7ZM501.4,498.5 501.5,498.5 501.5,498.5 501.5,498.6ZM507.7,481.1 509.6,482.1 511.5,484.0 512.5,486.8 512.5,487.8 511.5,490.7 509.6,492.6 506.6,493.6 505.9,493.6 504.0,492.7 502.1,490.7 501.1,487.9 501.1,486.8 502.1,484.0 504.1,482.0 505.9,481.1ZM486.6,479.7 486.1,479.9 482.8,483.1 480.9,484.1 480.7,484.3 480.6,484.7 480.7,485.0 480.9,485.2 481.3,485.4 481.6,485.3 483.8,484.2 484.7,483.3 484.8,483.3 484.8,502.0 484.7,502.1 481.3,502.1 481.0,502.2 480.7,502.4 480.6,502.8 480.7,503.2 480.9,503.4 481.3,503.5 490.8,503.5 491.2,503.4 491.4,503.2 491.5,502.8 491.4,502.4 491.2,502.2 490.8,502.1 487.3,502.1 487.3,502.0 487.3,480.4 487.1,480.0 487.0,479.9ZM418.1,479.9 418.0,480.0 417.8,480.4 418.0,480.8 418.3,481.1 418.5,481.1 421.1,481.1 421.2,481.2 422.4,487.8 422.6,488.9 422.6,489.2 422.9,490.2 422.9,490.5 423.2,491.5 423.2,491.8 423.4,492.8 423.4,493.2 423.7,494.2 423.7,494.5 423.9,495.5 423.9,495.8 424.2,496.8 424.2,497.2 424.4,498.2 424.4,498.5 424.7,499.5 424.7,499.8 424.9,500.8 424.9,501.1 425.2,502.2 425.2,502.5 425.4,503.2 425.6,503.4 426.0,503.5 426.4,503.4 426.6,503.2 426.7,502.9 428.0,495.6 428.3,494.6 428.3,494.2 428.5,493.2 428.5,492.9 428.8,491.9 428.8,491.6 429.0,490.6 429.0,490.2 429.3,489.2 429.3,488.9 429.5,487.9 429.5,487.6 429.8,486.6 429.8,486.3 430.0,485.2 430.0,484.9 430.2,484.4 431.4,490.4 431.4,490.7 433.7,502.7 433.9,503.2 434.1,503.4 434.5,503.5 434.9,503.4 435.1,503.2 435.2,502.7 439.3,481.2 439.4,481.1 441.9,481.1 442.2,481.1 442.6,480.7 442.6,480.4 442.5,480.0 442.3,479.9 441.9,479.7 435.6,479.7 435.2,479.9 434.9,480.2 434.9,480.4 434.9,480.7 435.3,481.1 437.8,481.1 437.9,481.2 435.0,496.3 432.0,480.4 431.9,480.0 431.7,479.9 431.3,479.7 430.7,480.0 430.5,479.8 430.2,479.7 430.0,479.8 429.7,480.0 429.5,480.5 426.5,496.1 426.4,495.9 426.3,495.3 426.3,495.0 426.1,494.3 426.1,494.0 425.9,493.3 425.9,493.0 425.7,492.3 423.7,481.2 423.7,481.1 426.3,481.1 426.6,480.7 426.7,480.4 426.6,480.0 426.4,479.9 426.0,479.7 418.5,479.7ZM434.4,498.1 434.7,498.2 434.5,498.9 434.3,498.2ZM425.9,498.1 426.1,498.2 426.0,498.8 425.9,498.7 425.8,498.4ZM396.9,479.9 396.7,480.0 396.6,480.4 396.7,480.8 397.0,481.1 397.3,481.1 399.7,481.1 399.7,481.2 399.7,502.0 399.7,502.1 397.3,502.1 397.0,502.2 396.6,502.5 396.6,502.8 396.7,503.2 396.9,503.4 397.3,503.5 414.3,503.5 414.7,503.4 414.9,503.2 415.0,502.8 415.0,496.4 414.9,496.0 414.7,495.8 414.3,495.7 413.9,495.8 413.7,496.0 413.5,496.5 412.7,501.7 412.6,502.1 402.3,502.1 402.2,502.0 402.2,491.8 402.3,491.8 407.1,491.8 407.2,491.8 407.2,495.3 407.3,495.6 407.5,495.9 407.9,496.0 408.3,495.9 408.5,495.7 408.6,495.3 408.6,486.8 408.5,486.4 408.3,486.3 407.9,486.1 407.6,486.2 407.3,486.6 407.2,486.8 407.2,490.3 407.1,490.4 402.3,490.4 402.2,490.3 402.2,481.2 402.3,481.1 412.6,481.1 412.7,481.5 413.5,486.8 413.7,487.2 413.9,487.4 414.3,487.5 414.7,487.4 414.9,487.2 415.0,486.8 415.0,480.4 414.9,480.0 414.7,479.9 414.3,479.7 397.3,479.7ZM372.4,479.9 372.3,480.0 372.1,480.4 372.3,480.8 372.6,481.1 372.8,481.1 375.2,481.1 375.3,481.2 375.3,502.0 375.2,502.1 372.8,502.1 372.6,502.2 372.2,502.5 372.1,502.8 372.3,503.2 372.4,503.4 372.8,503.5 379.2,503.5 379.5,503.4 379.7,503.2 379.9,502.8 379.7,502.4 379.5,502.2 379.2,502.1 376.8,502.1 376.7,502.0 376.7,483.5 376.8,483.4 389.2,503.1 389.5,503.4 389.8,503.5 390.2,503.4 390.4,503.2 390.5,502.8 390.5,481.2 390.6,481.1 393.0,481.1 393.3,481.1 393.7,480.7 393.7,480.4 393.6,480.0 393.4,479.9 393.0,479.7 386.6,479.7 386.2,479.9 386.0,480.2 385.9,480.4 386.0,480.7 386.4,481.1 386.6,481.1 389.0,481.1 389.1,481.2 389.1,498.0 389.0,498.1 377.7,480.1 377.4,479.9 377.1,479.7 372.8,479.7ZM376.8,481.2 377.1,481.8 376.8,482.0 376.7,481.9 376.7,481.3ZM564.4,476.4 562.5,476.4 562.7,476.7 564.7,478.8 566.8,483.0 567.9,486.1 568.9,491.1 568.9,495.3 567.9,500.3 566.8,503.6 564.7,507.7 562.7,509.8 562.5,510.3 562.6,510.7 562.8,510.8 563.2,511.0 563.5,510.8 565.9,508.5 568.0,505.3 570.3,500.8 571.3,495.7 571.2,495.4 571.3,495.3 571.3,491.1 571.2,491.0 571.3,490.8 570.2,485.5 567.9,480.9 565.9,477.9 565.8,478.0ZM470.4,476.4 469.0,477.9 467.0,480.9 464.7,485.4 463.5,491.1 463.5,495.3 464.6,500.8 466.8,505.2 468.9,508.4 471.3,510.8 471.7,511.0 472.1,510.8 472.3,510.7 472.4,510.3 472.2,509.8 470.1,507.7 468.1,503.6 467.1,500.6 466.0,495.3 466.0,491.1 467.0,486.0 468.0,483.0 470.1,478.8 472.2,476.7 472.3,476.4Z" fill="#ed1c24" fill-rule="evenodd"/>
<path d="M342.8,760.1 342.7,760.5 342.7,761.6 343.0,761.9 343.3,762.1 344.1,762.1 344.4,761.9 344.6,761.7 344.7,761.3 344.7,760.2 345.7,759.6 348.5,759.6 349.8,760.3 350.2,760.8 350.2,761.9 349.7,762.4 345.6,763.1 345.4,763.2 345.4,763.2 343.1,764.0 342.7,764.3 342.0,765.9 341.9,766.4 341.9,768.1 342.7,770.0 343.0,770.3 345.3,771.2 347.8,771.3 348.1,771.2 349.7,770.4 350.7,769.3 351.0,770.0 351.4,770.4 352.8,771.2 353.8,771.3 354.2,771.1 354.4,770.9 354.5,770.5 354.4,770.2 354.1,769.9 353.4,769.8 352.8,769.2 352.2,767.9 352.2,762.2 352.2,761.8 351.5,760.2 350.4,759.0 349.0,758.2 348.6,758.1 345.6,758.1 345.3,758.2 343.9,759.0ZM350.2,763.8 350.2,767.7 348.9,769.2 347.7,769.8 345.7,769.8 344.7,769.2 344.5,769.0 344.0,767.9 344.0,766.6 344.6,765.2 346.0,764.5 349.9,763.8Z" fill="#231f20" fill-rule="evenodd"/>
<path d="M405.3,758.9 402.9,759.7 402.2,760.2 401.0,761.4 400.8,761.7 400.0,763.9 400.0,765.8 400.8,768.4 402.7,770.3 405.1,771.2 407.1,771.2 409.8,770.4 410.1,770.3 411.7,768.6 411.8,768.2 411.7,767.9 411.4,767.6 411.2,767.6 410.9,767.6 409.0,769.3 407.1,769.9 405.7,769.9 404.4,769.3 402.9,767.9 402.2,765.8 402.2,765.0 402.2,765.0 411.2,765.0 411.5,764.9 411.8,764.5 411.8,762.7 411.8,762.3 411.0,760.7 409.8,759.7 408.3,759.0 407.9,758.9 405.5,758.9 405.3,759.0ZM402.4,763.6 402.9,762.3 404.3,760.9 405.6,760.2 407.8,760.2 409.1,760.9 409.7,762.1 409.7,763.6 409.6,763.6 402.5,763.6ZM414.2,753.4 413.8,753.8 413.7,754.0 413.9,754.4 414.2,754.7 415.4,754.7 415.6,754.8 420.9,770.6 421.3,771.1 421.7,771.2 422.0,771.2 422.4,770.7 427.9,754.7 429.0,754.7 429.4,754.6 429.6,754.3 429.7,754.0 429.6,753.8 429.4,753.5 429.0,753.4 424.1,753.4 423.7,753.5 423.5,753.7 423.4,754.0 423.5,754.3 423.9,754.7 426.3,754.7 426.4,754.8 422.2,767.0 422.1,767.1 417.8,754.8 417.9,754.7 419.2,754.7 419.6,754.6 419.8,754.4 419.9,754.0 419.8,753.7 419.6,753.5 419.2,753.4 414.4,753.4ZM385.1,754.2 384.8,754.3 383.0,756.1 382.2,757.7 381.4,760.1 381.4,760.2 381.4,760.4 381.4,764.3 381.4,764.4 381.4,764.5 382.1,766.8 383.0,768.5 385.1,770.4 387.3,771.2 387.7,771.2 389.7,771.2 391.8,770.4 392.0,770.4 392.6,769.9 392.8,770.8 393.0,771.1 393.4,771.2 393.7,771.1 394.2,771.2 394.6,771.1 394.8,770.9 394.9,770.6 394.9,765.0 395.0,765.0 396.6,765.0 397.0,764.9 397.2,764.7 397.3,764.3 397.2,763.9 397.0,763.7 396.6,763.6 390.9,763.6 390.5,763.7 390.4,763.9 390.2,764.3 390.4,764.7 390.5,764.9 390.9,765.0 392.6,765.0 392.7,765.0 392.7,767.9 391.5,769.1 391.2,769.3 389.3,769.9 387.9,769.9 386.5,769.2 385.1,767.8 384.3,766.3 383.5,764.1 383.5,760.5 384.3,758.3 385.1,756.8 386.5,755.4 387.9,754.7 389.2,754.7 391.3,755.4 392.8,756.9 393.5,758.8 393.8,759.3 394.2,759.4 394.6,759.3 394.8,759.1 394.9,758.8 394.9,754.0 394.8,753.7 394.6,753.5 394.2,753.4 393.8,753.5 393.5,754.0 393.1,755.1 391.9,754.2 389.3,753.4 387.7,753.4ZM377.2,750.2 376.7,750.4 374.9,752.1 373.4,754.3 371.7,757.7 370.8,761.8 370.9,761.8 370.8,761.9 370.8,765.0 370.9,765.1 370.8,765.2 371.7,769.2 373.4,772.5 374.9,774.7 376.6,776.5 377.2,776.8 377.6,776.6 377.8,776.5 377.9,776.1 377.7,775.6 376.1,774.1 374.6,771.2 373.8,768.8 373.0,765.1 373.0,761.8 373.8,758.2 374.5,756.1 376.1,752.9 377.7,751.4 377.9,750.9 377.8,750.5 377.6,750.4Z" fill="#231f20" fill-rule="evenodd"/>
<line x1="431.70" y1="753.90" x2="442.10" y2="753.90" stroke="#231f20" stroke-width="1.3" stroke-linecap="butt"/>
<path d="M449.6,746.7 449.3,746.8 447.4,748.5 446.3,748.9 445.9,749.2 445.8,749.5 445.9,749.7 446.2,750.0 446.5,750.1 448.3,749.3 448.3,749.4 448.3,758.1 448.3,758.1 446.2,758.2 445.9,758.4 445.8,758.7 445.9,758.9 446.2,759.2 446.5,759.3 452.1,759.3 452.4,759.2 452.7,758.9 452.8,758.7 452.7,758.4 452.4,758.2 450.3,758.1 450.3,758.1 450.3,747.3 450.2,747.1 449.9,746.8Z" fill="#231f20" fill-rule="evenodd"/>
<path d="M456.5,750.2 456.1,750.4 456.0,750.5 455.8,750.9 455.9,751.2 457.6,752.9 459.2,755.9 459.9,758.2 460.7,761.8 460.7,765.2 459.9,768.8 459.2,771.1 457.7,774.0 456.1,775.5 455.9,775.8 455.8,776.1 456.0,776.5 456.1,776.6 456.5,776.8 457.1,776.5 458.7,775.0 460.4,772.5 462.0,769.3 462.9,765.3 462.8,765.2 462.9,765.0 462.9,761.9 462.8,761.8 462.9,761.7 462.0,757.6 460.3,754.3 458.8,752.1 457.0,750.4Z" fill="#231f20" fill-rule="evenodd"/>
<path d="M58.6,500.0 58.9,500.1 59.1,500.0 59.5,499.6 59.6,497.8 59.7,497.7 69.9,497.7 70.0,497.8 70.0,499.4 70.1,499.8 70.3,499.9 70.7,500.1 71.1,499.9 71.4,499.6 71.5,499.4 71.5,493.9 71.3,493.5 71.1,493.3 70.7,493.2 70.3,493.3 70.1,493.5 70.0,493.9 70.0,495.5 69.9,495.6 61.7,495.6 60.3,494.3 59.6,492.3 59.6,490.9 60.2,489.8 60.4,489.6 61.6,489.0 69.9,489.0 70.0,489.1 70.0,490.8 70.1,491.1 70.3,491.3 70.7,491.4 71.1,491.3 71.3,491.1 71.5,490.8 71.5,485.2 71.3,484.8 71.1,484.7 70.7,484.5 70.3,484.7 70.1,484.8 70.0,485.2 70.0,486.8 69.9,486.9 61.6,486.9 60.3,485.6 59.6,483.6 59.6,482.2 60.2,481.1 61.6,480.3 69.9,480.3 70.0,480.4 70.1,482.3 70.5,482.7 70.7,482.7 71.1,482.6 71.3,482.4 71.5,482.1 71.5,476.5 71.3,476.1 71.0,475.9 70.7,475.8 70.5,475.9 70.1,476.3 70.0,478.2 69.9,478.2 61.4,478.2 61.0,478.3 59.3,479.1 58.9,479.6 58.1,481.8 58.2,481.9 58.1,482.1 58.2,483.8 58.1,483.8 59.0,486.2 59.2,486.5 60.1,487.4 59.4,487.7 59.0,488.2 58.1,490.5 58.2,490.6 58.1,490.8 58.2,492.5 58.1,492.5 58.9,494.8 59.6,495.5 59.5,495.6 58.9,495.6 58.5,495.7 58.3,495.9 58.1,496.2 58.1,499.4 58.3,499.8Z" fill="#231f20" fill-rule="evenodd"/>
<path d="M58.7,415.3 59.4,417.5 59.7,417.9 61.4,419.6 63.9,420.5 64.0,420.4 64.2,420.5 65.9,420.4 66.0,420.5 68.5,419.6 70.2,417.9 70.4,417.6 71.1,415.4 71.2,413.5 70.4,410.9 70.2,410.8 70.2,410.6 68.5,408.9 68.1,408.8 67.8,408.9 67.5,409.2 67.5,409.5 67.6,410.0 69.2,411.6 69.8,413.5 69.8,414.9 69.2,416.1 67.8,417.6 65.6,418.4 64.9,418.4 64.8,418.3 64.8,409.5 64.7,409.1 64.4,408.9 62.5,408.8 62.2,408.9 60.7,409.6 59.5,410.8 58.8,412.3 58.7,412.6 58.7,415.1 58.8,415.2ZM63.3,418.0 62.1,417.6 60.7,416.2 60.1,414.9 60.1,412.8 60.6,411.7 61.9,411.0 63.4,411.0 63.5,411.0 63.5,418.0ZM53.2,406.6 53.5,406.9 53.8,407.0 54.2,406.9 54.4,406.6 54.5,405.3 54.7,405.1 70.6,399.9 71.1,399.6 71.2,399.2 71.1,398.9 70.9,398.6 70.6,398.4 54.6,393.2 54.5,393.1 54.5,392.0 54.3,391.6 54.0,391.4 53.8,391.3 53.5,391.4 53.2,391.6 53.1,392.0 53.1,396.8 53.2,397.1 53.4,397.3 53.8,397.5 54.0,397.4 54.4,397.0 54.5,394.6 54.5,394.5 67.1,398.8 66.9,398.9 54.6,403.0 54.5,402.9 54.5,401.5 54.3,401.2 54.2,401.0 53.8,400.9 53.4,401.0 53.2,401.2 53.1,401.5 53.1,406.3ZM53.2,440.8 53.4,441.0 53.8,441.1 54.2,441.0 54.3,440.8 54.5,440.4 54.5,438.8 54.5,438.8 69.7,438.8 69.8,438.8 69.9,440.7 70.2,441.1 70.5,441.1 70.9,441.0 71.1,440.8 71.2,440.4 71.2,435.7 71.1,435.3 70.7,435.0 70.5,435.0 70.2,435.0 69.9,435.4 69.8,437.3 69.7,437.4 58.3,437.4 58.3,437.3 70.6,433.2 71.1,432.9 71.2,432.5 71.1,432.2 70.7,431.8 58.4,427.7 58.4,427.7 69.7,427.7 69.8,427.7 69.9,429.6 70.2,430.0 70.5,430.0 70.7,430.0 71.1,429.7 71.2,429.3 71.2,423.8 71.1,423.4 70.9,423.2 70.5,423.1 70.1,423.2 69.9,423.4 69.8,423.8 69.8,425.4 69.7,425.5 54.5,425.5 54.5,425.4 54.4,423.5 54.0,423.1 53.8,423.1 53.4,423.2 53.2,423.4 53.1,423.8 53.1,427.0 53.2,427.3 53.4,427.5 66.9,432.0 67.0,432.1 53.4,436.7 53.2,436.9 53.1,437.3 53.1,440.4ZM49.9,388.8 50.1,389.2 50.2,389.4 50.6,389.5 51.1,389.3 52.7,387.8 55.8,386.2 58.1,385.5 61.8,384.7 64.8,384.7 68.8,385.5 71.1,386.3 74.0,387.8 75.6,389.3 76.1,389.5 76.5,389.4 76.6,389.2 76.8,388.8 76.6,388.5 74.8,386.7 72.4,385.0 69.0,383.4 65.3,382.6 65.0,382.7 64.9,382.6 61.7,382.6 61.7,382.7 61.4,382.6 57.5,383.4 54.0,385.2 51.8,386.7 51.9,386.7 51.7,386.8 50.1,388.3ZM49.9,444.4 50.1,444.9 51.9,446.6 54.1,448.1 57.4,449.8 61.6,450.7 61.7,450.6 61.7,450.7 64.9,450.7 65.0,450.6 65.1,450.7 69.1,449.9 72.5,448.2 74.7,446.7 76.5,445.0 76.8,444.4 76.6,444.0 76.5,443.8 76.1,443.7 75.6,443.9 74.0,445.5 71.1,446.9 68.7,447.8 65.0,448.5 61.7,448.5 58.0,447.8 55.9,447.1 52.7,445.5 51.1,443.9 50.6,443.7 50.2,443.8 50.1,444.0Z" fill="#231f20" fill-rule="evenodd"/>
<line x1="49.00" y1="465.30" x2="49.00" y2="501.50" stroke="#231f20" stroke-width="1.5" stroke-linecap="butt"/>
</g>
</svg></body></html>
